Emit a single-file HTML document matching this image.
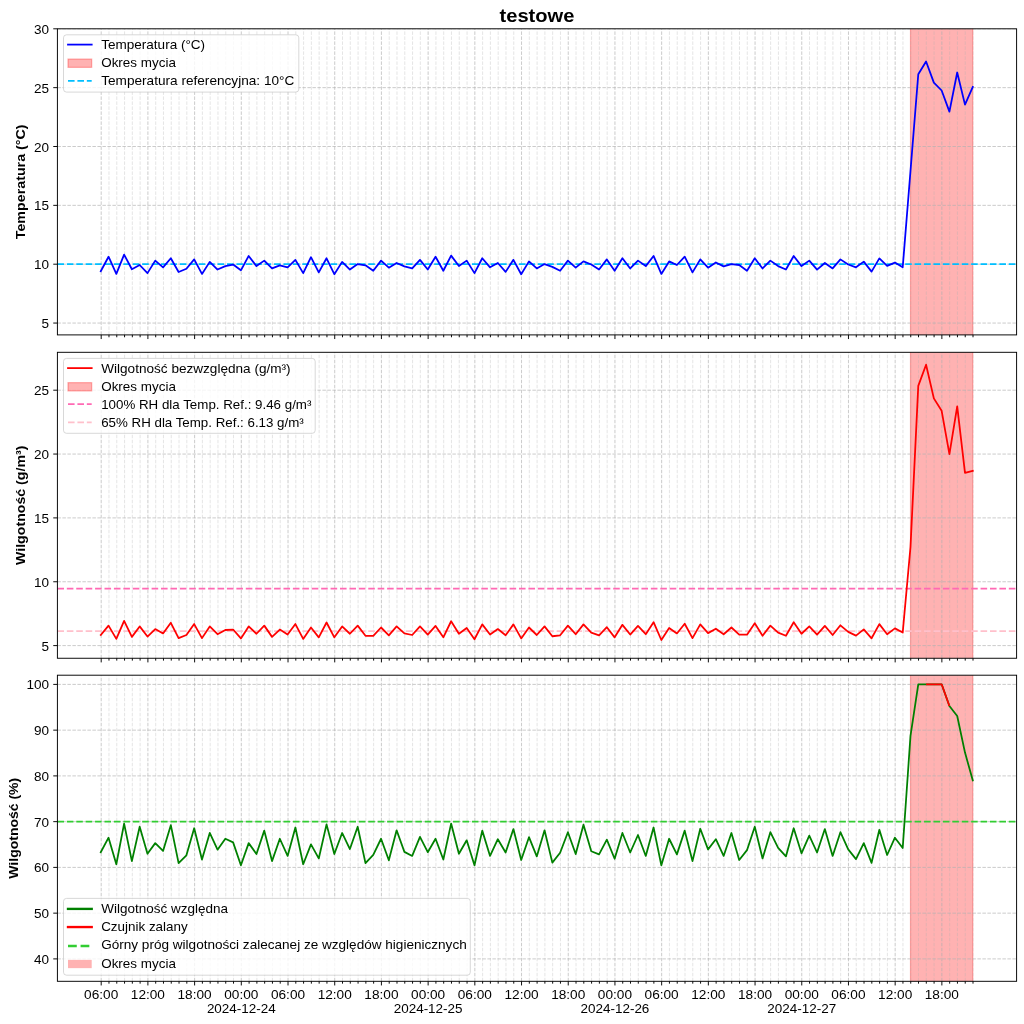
<!DOCTYPE html><html><head><meta charset="utf-8"><style>html,body{margin:0;padding:0;background:#fff;width:1024px;height:1024px;overflow:hidden}svg{display:block;will-change:transform}text{font-family:"Liberation Sans",sans-serif;fill:#000}</style></head><body>
<svg width="1024" height="1024" viewBox="0 0 1024 1024">
<rect width="1024" height="1024" fill="#fff"/>
<clipPath id="c0"><rect x="57.4" y="28.8" width="959.2" height="306.09999999999997"/></clipPath>
<g clip-path="url(#c0)">
<rect x="910.49" y="26.8" width="62.29" height="310.09999999999997" fill="#ff0000" fill-opacity="0.3" stroke="#ff0000" stroke-opacity="0.3" stroke-width="1.18"/>
<line x1="108.98" y1="334.9" x2="108.98" y2="28.8" stroke="#b0b0b0" stroke-opacity="0.35" stroke-width="0.95" stroke-dasharray="3.5 1.5"/>
<line x1="116.77" y1="334.9" x2="116.77" y2="28.8" stroke="#b0b0b0" stroke-opacity="0.35" stroke-width="0.95" stroke-dasharray="3.5 1.5"/>
<line x1="124.55" y1="334.9" x2="124.55" y2="28.8" stroke="#b0b0b0" stroke-opacity="0.35" stroke-width="0.95" stroke-dasharray="3.5 1.5"/>
<line x1="132.34" y1="334.9" x2="132.34" y2="28.8" stroke="#b0b0b0" stroke-opacity="0.35" stroke-width="0.95" stroke-dasharray="3.5 1.5"/>
<line x1="140.12" y1="334.9" x2="140.12" y2="28.8" stroke="#b0b0b0" stroke-opacity="0.35" stroke-width="0.95" stroke-dasharray="3.5 1.5"/>
<line x1="155.69" y1="334.9" x2="155.69" y2="28.8" stroke="#b0b0b0" stroke-opacity="0.35" stroke-width="0.95" stroke-dasharray="3.5 1.5"/>
<line x1="163.47" y1="334.9" x2="163.47" y2="28.8" stroke="#b0b0b0" stroke-opacity="0.35" stroke-width="0.95" stroke-dasharray="3.5 1.5"/>
<line x1="171.26" y1="334.9" x2="171.26" y2="28.8" stroke="#b0b0b0" stroke-opacity="0.35" stroke-width="0.95" stroke-dasharray="3.5 1.5"/>
<line x1="179.04" y1="334.9" x2="179.04" y2="28.8" stroke="#b0b0b0" stroke-opacity="0.35" stroke-width="0.95" stroke-dasharray="3.5 1.5"/>
<line x1="186.82" y1="334.9" x2="186.82" y2="28.8" stroke="#b0b0b0" stroke-opacity="0.35" stroke-width="0.95" stroke-dasharray="3.5 1.5"/>
<line x1="202.39" y1="334.9" x2="202.39" y2="28.8" stroke="#b0b0b0" stroke-opacity="0.35" stroke-width="0.95" stroke-dasharray="3.5 1.5"/>
<line x1="210.18" y1="334.9" x2="210.18" y2="28.8" stroke="#b0b0b0" stroke-opacity="0.35" stroke-width="0.95" stroke-dasharray="3.5 1.5"/>
<line x1="217.96" y1="334.9" x2="217.96" y2="28.8" stroke="#b0b0b0" stroke-opacity="0.35" stroke-width="0.95" stroke-dasharray="3.5 1.5"/>
<line x1="225.74" y1="334.9" x2="225.74" y2="28.8" stroke="#b0b0b0" stroke-opacity="0.35" stroke-width="0.95" stroke-dasharray="3.5 1.5"/>
<line x1="233.53" y1="334.9" x2="233.53" y2="28.8" stroke="#b0b0b0" stroke-opacity="0.35" stroke-width="0.95" stroke-dasharray="3.5 1.5"/>
<line x1="249.10" y1="334.9" x2="249.10" y2="28.8" stroke="#b0b0b0" stroke-opacity="0.35" stroke-width="0.95" stroke-dasharray="3.5 1.5"/>
<line x1="256.88" y1="334.9" x2="256.88" y2="28.8" stroke="#b0b0b0" stroke-opacity="0.35" stroke-width="0.95" stroke-dasharray="3.5 1.5"/>
<line x1="264.66" y1="334.9" x2="264.66" y2="28.8" stroke="#b0b0b0" stroke-opacity="0.35" stroke-width="0.95" stroke-dasharray="3.5 1.5"/>
<line x1="272.45" y1="334.9" x2="272.45" y2="28.8" stroke="#b0b0b0" stroke-opacity="0.35" stroke-width="0.95" stroke-dasharray="3.5 1.5"/>
<line x1="280.23" y1="334.9" x2="280.23" y2="28.8" stroke="#b0b0b0" stroke-opacity="0.35" stroke-width="0.95" stroke-dasharray="3.5 1.5"/>
<line x1="295.80" y1="334.9" x2="295.80" y2="28.8" stroke="#b0b0b0" stroke-opacity="0.35" stroke-width="0.95" stroke-dasharray="3.5 1.5"/>
<line x1="303.58" y1="334.9" x2="303.58" y2="28.8" stroke="#b0b0b0" stroke-opacity="0.35" stroke-width="0.95" stroke-dasharray="3.5 1.5"/>
<line x1="311.37" y1="334.9" x2="311.37" y2="28.8" stroke="#b0b0b0" stroke-opacity="0.35" stroke-width="0.95" stroke-dasharray="3.5 1.5"/>
<line x1="319.15" y1="334.9" x2="319.15" y2="28.8" stroke="#b0b0b0" stroke-opacity="0.35" stroke-width="0.95" stroke-dasharray="3.5 1.5"/>
<line x1="326.94" y1="334.9" x2="326.94" y2="28.8" stroke="#b0b0b0" stroke-opacity="0.35" stroke-width="0.95" stroke-dasharray="3.5 1.5"/>
<line x1="342.50" y1="334.9" x2="342.50" y2="28.8" stroke="#b0b0b0" stroke-opacity="0.35" stroke-width="0.95" stroke-dasharray="3.5 1.5"/>
<line x1="350.29" y1="334.9" x2="350.29" y2="28.8" stroke="#b0b0b0" stroke-opacity="0.35" stroke-width="0.95" stroke-dasharray="3.5 1.5"/>
<line x1="358.07" y1="334.9" x2="358.07" y2="28.8" stroke="#b0b0b0" stroke-opacity="0.35" stroke-width="0.95" stroke-dasharray="3.5 1.5"/>
<line x1="365.86" y1="334.9" x2="365.86" y2="28.8" stroke="#b0b0b0" stroke-opacity="0.35" stroke-width="0.95" stroke-dasharray="3.5 1.5"/>
<line x1="373.64" y1="334.9" x2="373.64" y2="28.8" stroke="#b0b0b0" stroke-opacity="0.35" stroke-width="0.95" stroke-dasharray="3.5 1.5"/>
<line x1="389.21" y1="334.9" x2="389.21" y2="28.8" stroke="#b0b0b0" stroke-opacity="0.35" stroke-width="0.95" stroke-dasharray="3.5 1.5"/>
<line x1="396.99" y1="334.9" x2="396.99" y2="28.8" stroke="#b0b0b0" stroke-opacity="0.35" stroke-width="0.95" stroke-dasharray="3.5 1.5"/>
<line x1="404.78" y1="334.9" x2="404.78" y2="28.8" stroke="#b0b0b0" stroke-opacity="0.35" stroke-width="0.95" stroke-dasharray="3.5 1.5"/>
<line x1="412.56" y1="334.9" x2="412.56" y2="28.8" stroke="#b0b0b0" stroke-opacity="0.35" stroke-width="0.95" stroke-dasharray="3.5 1.5"/>
<line x1="420.34" y1="334.9" x2="420.34" y2="28.8" stroke="#b0b0b0" stroke-opacity="0.35" stroke-width="0.95" stroke-dasharray="3.5 1.5"/>
<line x1="435.91" y1="334.9" x2="435.91" y2="28.8" stroke="#b0b0b0" stroke-opacity="0.35" stroke-width="0.95" stroke-dasharray="3.5 1.5"/>
<line x1="443.70" y1="334.9" x2="443.70" y2="28.8" stroke="#b0b0b0" stroke-opacity="0.35" stroke-width="0.95" stroke-dasharray="3.5 1.5"/>
<line x1="451.48" y1="334.9" x2="451.48" y2="28.8" stroke="#b0b0b0" stroke-opacity="0.35" stroke-width="0.95" stroke-dasharray="3.5 1.5"/>
<line x1="459.26" y1="334.9" x2="459.26" y2="28.8" stroke="#b0b0b0" stroke-opacity="0.35" stroke-width="0.95" stroke-dasharray="3.5 1.5"/>
<line x1="467.05" y1="334.9" x2="467.05" y2="28.8" stroke="#b0b0b0" stroke-opacity="0.35" stroke-width="0.95" stroke-dasharray="3.5 1.5"/>
<line x1="482.62" y1="334.9" x2="482.62" y2="28.8" stroke="#b0b0b0" stroke-opacity="0.35" stroke-width="0.95" stroke-dasharray="3.5 1.5"/>
<line x1="490.40" y1="334.9" x2="490.40" y2="28.8" stroke="#b0b0b0" stroke-opacity="0.35" stroke-width="0.95" stroke-dasharray="3.5 1.5"/>
<line x1="498.18" y1="334.9" x2="498.18" y2="28.8" stroke="#b0b0b0" stroke-opacity="0.35" stroke-width="0.95" stroke-dasharray="3.5 1.5"/>
<line x1="505.97" y1="334.9" x2="505.97" y2="28.8" stroke="#b0b0b0" stroke-opacity="0.35" stroke-width="0.95" stroke-dasharray="3.5 1.5"/>
<line x1="513.75" y1="334.9" x2="513.75" y2="28.8" stroke="#b0b0b0" stroke-opacity="0.35" stroke-width="0.95" stroke-dasharray="3.5 1.5"/>
<line x1="529.32" y1="334.9" x2="529.32" y2="28.8" stroke="#b0b0b0" stroke-opacity="0.35" stroke-width="0.95" stroke-dasharray="3.5 1.5"/>
<line x1="537.10" y1="334.9" x2="537.10" y2="28.8" stroke="#b0b0b0" stroke-opacity="0.35" stroke-width="0.95" stroke-dasharray="3.5 1.5"/>
<line x1="544.89" y1="334.9" x2="544.89" y2="28.8" stroke="#b0b0b0" stroke-opacity="0.35" stroke-width="0.95" stroke-dasharray="3.5 1.5"/>
<line x1="552.67" y1="334.9" x2="552.67" y2="28.8" stroke="#b0b0b0" stroke-opacity="0.35" stroke-width="0.95" stroke-dasharray="3.5 1.5"/>
<line x1="560.46" y1="334.9" x2="560.46" y2="28.8" stroke="#b0b0b0" stroke-opacity="0.35" stroke-width="0.95" stroke-dasharray="3.5 1.5"/>
<line x1="576.02" y1="334.9" x2="576.02" y2="28.8" stroke="#b0b0b0" stroke-opacity="0.35" stroke-width="0.95" stroke-dasharray="3.5 1.5"/>
<line x1="583.81" y1="334.9" x2="583.81" y2="28.8" stroke="#b0b0b0" stroke-opacity="0.35" stroke-width="0.95" stroke-dasharray="3.5 1.5"/>
<line x1="591.59" y1="334.9" x2="591.59" y2="28.8" stroke="#b0b0b0" stroke-opacity="0.35" stroke-width="0.95" stroke-dasharray="3.5 1.5"/>
<line x1="599.38" y1="334.9" x2="599.38" y2="28.8" stroke="#b0b0b0" stroke-opacity="0.35" stroke-width="0.95" stroke-dasharray="3.5 1.5"/>
<line x1="607.16" y1="334.9" x2="607.16" y2="28.8" stroke="#b0b0b0" stroke-opacity="0.35" stroke-width="0.95" stroke-dasharray="3.5 1.5"/>
<line x1="622.73" y1="334.9" x2="622.73" y2="28.8" stroke="#b0b0b0" stroke-opacity="0.35" stroke-width="0.95" stroke-dasharray="3.5 1.5"/>
<line x1="630.51" y1="334.9" x2="630.51" y2="28.8" stroke="#b0b0b0" stroke-opacity="0.35" stroke-width="0.95" stroke-dasharray="3.5 1.5"/>
<line x1="638.30" y1="334.9" x2="638.30" y2="28.8" stroke="#b0b0b0" stroke-opacity="0.35" stroke-width="0.95" stroke-dasharray="3.5 1.5"/>
<line x1="646.08" y1="334.9" x2="646.08" y2="28.8" stroke="#b0b0b0" stroke-opacity="0.35" stroke-width="0.95" stroke-dasharray="3.5 1.5"/>
<line x1="653.86" y1="334.9" x2="653.86" y2="28.8" stroke="#b0b0b0" stroke-opacity="0.35" stroke-width="0.95" stroke-dasharray="3.5 1.5"/>
<line x1="669.43" y1="334.9" x2="669.43" y2="28.8" stroke="#b0b0b0" stroke-opacity="0.35" stroke-width="0.95" stroke-dasharray="3.5 1.5"/>
<line x1="677.22" y1="334.9" x2="677.22" y2="28.8" stroke="#b0b0b0" stroke-opacity="0.35" stroke-width="0.95" stroke-dasharray="3.5 1.5"/>
<line x1="685.00" y1="334.9" x2="685.00" y2="28.8" stroke="#b0b0b0" stroke-opacity="0.35" stroke-width="0.95" stroke-dasharray="3.5 1.5"/>
<line x1="692.78" y1="334.9" x2="692.78" y2="28.8" stroke="#b0b0b0" stroke-opacity="0.35" stroke-width="0.95" stroke-dasharray="3.5 1.5"/>
<line x1="700.57" y1="334.9" x2="700.57" y2="28.8" stroke="#b0b0b0" stroke-opacity="0.35" stroke-width="0.95" stroke-dasharray="3.5 1.5"/>
<line x1="716.14" y1="334.9" x2="716.14" y2="28.8" stroke="#b0b0b0" stroke-opacity="0.35" stroke-width="0.95" stroke-dasharray="3.5 1.5"/>
<line x1="723.92" y1="334.9" x2="723.92" y2="28.8" stroke="#b0b0b0" stroke-opacity="0.35" stroke-width="0.95" stroke-dasharray="3.5 1.5"/>
<line x1="731.70" y1="334.9" x2="731.70" y2="28.8" stroke="#b0b0b0" stroke-opacity="0.35" stroke-width="0.95" stroke-dasharray="3.5 1.5"/>
<line x1="739.49" y1="334.9" x2="739.49" y2="28.8" stroke="#b0b0b0" stroke-opacity="0.35" stroke-width="0.95" stroke-dasharray="3.5 1.5"/>
<line x1="747.27" y1="334.9" x2="747.27" y2="28.8" stroke="#b0b0b0" stroke-opacity="0.35" stroke-width="0.95" stroke-dasharray="3.5 1.5"/>
<line x1="762.84" y1="334.9" x2="762.84" y2="28.8" stroke="#b0b0b0" stroke-opacity="0.35" stroke-width="0.95" stroke-dasharray="3.5 1.5"/>
<line x1="770.62" y1="334.9" x2="770.62" y2="28.8" stroke="#b0b0b0" stroke-opacity="0.35" stroke-width="0.95" stroke-dasharray="3.5 1.5"/>
<line x1="778.41" y1="334.9" x2="778.41" y2="28.8" stroke="#b0b0b0" stroke-opacity="0.35" stroke-width="0.95" stroke-dasharray="3.5 1.5"/>
<line x1="786.19" y1="334.9" x2="786.19" y2="28.8" stroke="#b0b0b0" stroke-opacity="0.35" stroke-width="0.95" stroke-dasharray="3.5 1.5"/>
<line x1="793.98" y1="334.9" x2="793.98" y2="28.8" stroke="#b0b0b0" stroke-opacity="0.35" stroke-width="0.95" stroke-dasharray="3.5 1.5"/>
<line x1="809.54" y1="334.9" x2="809.54" y2="28.8" stroke="#b0b0b0" stroke-opacity="0.35" stroke-width="0.95" stroke-dasharray="3.5 1.5"/>
<line x1="817.33" y1="334.9" x2="817.33" y2="28.8" stroke="#b0b0b0" stroke-opacity="0.35" stroke-width="0.95" stroke-dasharray="3.5 1.5"/>
<line x1="825.11" y1="334.9" x2="825.11" y2="28.8" stroke="#b0b0b0" stroke-opacity="0.35" stroke-width="0.95" stroke-dasharray="3.5 1.5"/>
<line x1="832.90" y1="334.9" x2="832.90" y2="28.8" stroke="#b0b0b0" stroke-opacity="0.35" stroke-width="0.95" stroke-dasharray="3.5 1.5"/>
<line x1="840.68" y1="334.9" x2="840.68" y2="28.8" stroke="#b0b0b0" stroke-opacity="0.35" stroke-width="0.95" stroke-dasharray="3.5 1.5"/>
<line x1="856.25" y1="334.9" x2="856.25" y2="28.8" stroke="#b0b0b0" stroke-opacity="0.35" stroke-width="0.95" stroke-dasharray="3.5 1.5"/>
<line x1="864.03" y1="334.9" x2="864.03" y2="28.8" stroke="#b0b0b0" stroke-opacity="0.35" stroke-width="0.95" stroke-dasharray="3.5 1.5"/>
<line x1="871.82" y1="334.9" x2="871.82" y2="28.8" stroke="#b0b0b0" stroke-opacity="0.35" stroke-width="0.95" stroke-dasharray="3.5 1.5"/>
<line x1="879.60" y1="334.9" x2="879.60" y2="28.8" stroke="#b0b0b0" stroke-opacity="0.35" stroke-width="0.95" stroke-dasharray="3.5 1.5"/>
<line x1="887.38" y1="334.9" x2="887.38" y2="28.8" stroke="#b0b0b0" stroke-opacity="0.35" stroke-width="0.95" stroke-dasharray="3.5 1.5"/>
<line x1="902.95" y1="334.9" x2="902.95" y2="28.8" stroke="#b0b0b0" stroke-opacity="0.35" stroke-width="0.95" stroke-dasharray="3.5 1.5"/>
<line x1="910.74" y1="334.9" x2="910.74" y2="28.8" stroke="#b0b0b0" stroke-opacity="0.35" stroke-width="0.95" stroke-dasharray="3.5 1.5"/>
<line x1="918.52" y1="334.9" x2="918.52" y2="28.8" stroke="#b0b0b0" stroke-opacity="0.35" stroke-width="0.95" stroke-dasharray="3.5 1.5"/>
<line x1="926.30" y1="334.9" x2="926.30" y2="28.8" stroke="#b0b0b0" stroke-opacity="0.35" stroke-width="0.95" stroke-dasharray="3.5 1.5"/>
<line x1="934.09" y1="334.9" x2="934.09" y2="28.8" stroke="#b0b0b0" stroke-opacity="0.35" stroke-width="0.95" stroke-dasharray="3.5 1.5"/>
<line x1="949.66" y1="334.9" x2="949.66" y2="28.8" stroke="#b0b0b0" stroke-opacity="0.35" stroke-width="0.95" stroke-dasharray="3.5 1.5"/>
<line x1="957.44" y1="334.9" x2="957.44" y2="28.8" stroke="#b0b0b0" stroke-opacity="0.35" stroke-width="0.95" stroke-dasharray="3.5 1.5"/>
<line x1="965.22" y1="334.9" x2="965.22" y2="28.8" stroke="#b0b0b0" stroke-opacity="0.35" stroke-width="0.95" stroke-dasharray="3.5 1.5"/>
<line x1="973.01" y1="334.9" x2="973.01" y2="28.8" stroke="#b0b0b0" stroke-opacity="0.35" stroke-width="0.95" stroke-dasharray="3.5 1.5"/>
<line x1="101.20" y1="334.9" x2="101.20" y2="28.8" stroke="#b0b0b0" stroke-opacity="0.7" stroke-width="0.95" stroke-dasharray="3.5 1.5"/>
<line x1="147.90" y1="334.9" x2="147.90" y2="28.8" stroke="#b0b0b0" stroke-opacity="0.7" stroke-width="0.95" stroke-dasharray="3.5 1.5"/>
<line x1="194.61" y1="334.9" x2="194.61" y2="28.8" stroke="#b0b0b0" stroke-opacity="0.7" stroke-width="0.95" stroke-dasharray="3.5 1.5"/>
<line x1="241.31" y1="334.9" x2="241.31" y2="28.8" stroke="#b0b0b0" stroke-opacity="0.7" stroke-width="0.95" stroke-dasharray="3.5 1.5"/>
<line x1="288.02" y1="334.9" x2="288.02" y2="28.8" stroke="#b0b0b0" stroke-opacity="0.7" stroke-width="0.95" stroke-dasharray="3.5 1.5"/>
<line x1="334.72" y1="334.9" x2="334.72" y2="28.8" stroke="#b0b0b0" stroke-opacity="0.7" stroke-width="0.95" stroke-dasharray="3.5 1.5"/>
<line x1="381.42" y1="334.9" x2="381.42" y2="28.8" stroke="#b0b0b0" stroke-opacity="0.7" stroke-width="0.95" stroke-dasharray="3.5 1.5"/>
<line x1="428.13" y1="334.9" x2="428.13" y2="28.8" stroke="#b0b0b0" stroke-opacity="0.7" stroke-width="0.95" stroke-dasharray="3.5 1.5"/>
<line x1="474.83" y1="334.9" x2="474.83" y2="28.8" stroke="#b0b0b0" stroke-opacity="0.7" stroke-width="0.95" stroke-dasharray="3.5 1.5"/>
<line x1="521.54" y1="334.9" x2="521.54" y2="28.8" stroke="#b0b0b0" stroke-opacity="0.7" stroke-width="0.95" stroke-dasharray="3.5 1.5"/>
<line x1="568.24" y1="334.9" x2="568.24" y2="28.8" stroke="#b0b0b0" stroke-opacity="0.7" stroke-width="0.95" stroke-dasharray="3.5 1.5"/>
<line x1="614.94" y1="334.9" x2="614.94" y2="28.8" stroke="#b0b0b0" stroke-opacity="0.7" stroke-width="0.95" stroke-dasharray="3.5 1.5"/>
<line x1="661.65" y1="334.9" x2="661.65" y2="28.8" stroke="#b0b0b0" stroke-opacity="0.7" stroke-width="0.95" stroke-dasharray="3.5 1.5"/>
<line x1="708.35" y1="334.9" x2="708.35" y2="28.8" stroke="#b0b0b0" stroke-opacity="0.7" stroke-width="0.95" stroke-dasharray="3.5 1.5"/>
<line x1="755.06" y1="334.9" x2="755.06" y2="28.8" stroke="#b0b0b0" stroke-opacity="0.7" stroke-width="0.95" stroke-dasharray="3.5 1.5"/>
<line x1="801.76" y1="334.9" x2="801.76" y2="28.8" stroke="#b0b0b0" stroke-opacity="0.7" stroke-width="0.95" stroke-dasharray="3.5 1.5"/>
<line x1="848.46" y1="334.9" x2="848.46" y2="28.8" stroke="#b0b0b0" stroke-opacity="0.7" stroke-width="0.95" stroke-dasharray="3.5 1.5"/>
<line x1="895.17" y1="334.9" x2="895.17" y2="28.8" stroke="#b0b0b0" stroke-opacity="0.7" stroke-width="0.95" stroke-dasharray="3.5 1.5"/>
<line x1="941.87" y1="334.9" x2="941.87" y2="28.8" stroke="#b0b0b0" stroke-opacity="0.7" stroke-width="0.95" stroke-dasharray="3.5 1.5"/>
<line x1="57.4" y1="323.05" x2="1016.6" y2="323.05" stroke="#b0b0b0" stroke-opacity="0.7" stroke-width="0.95" stroke-dasharray="3.5 1.5"/>
<line x1="57.4" y1="264.20" x2="1016.6" y2="264.20" stroke="#b0b0b0" stroke-opacity="0.7" stroke-width="0.95" stroke-dasharray="3.5 1.5"/>
<line x1="57.4" y1="205.35" x2="1016.6" y2="205.35" stroke="#b0b0b0" stroke-opacity="0.7" stroke-width="0.95" stroke-dasharray="3.5 1.5"/>
<line x1="57.4" y1="146.50" x2="1016.6" y2="146.50" stroke="#b0b0b0" stroke-opacity="0.7" stroke-width="0.95" stroke-dasharray="3.5 1.5"/>
<line x1="57.4" y1="87.65" x2="1016.6" y2="87.65" stroke="#b0b0b0" stroke-opacity="0.7" stroke-width="0.95" stroke-dasharray="3.5 1.5"/>
<line x1="57.4" y1="28.80" x2="1016.6" y2="28.80" stroke="#b0b0b0" stroke-opacity="0.7" stroke-width="0.95" stroke-dasharray="3.5 1.5"/>
</g>
<clipPath id="c1"><rect x="57.4" y="352.3" width="959.2" height="305.95"/></clipPath>
<g clip-path="url(#c1)">
<rect x="910.49" y="350.3" width="62.29" height="309.95" fill="#ff0000" fill-opacity="0.3" stroke="#ff0000" stroke-opacity="0.3" stroke-width="1.18"/>
<line x1="108.98" y1="658.25" x2="108.98" y2="352.3" stroke="#b0b0b0" stroke-opacity="0.35" stroke-width="0.95" stroke-dasharray="3.5 1.5"/>
<line x1="116.77" y1="658.25" x2="116.77" y2="352.3" stroke="#b0b0b0" stroke-opacity="0.35" stroke-width="0.95" stroke-dasharray="3.5 1.5"/>
<line x1="124.55" y1="658.25" x2="124.55" y2="352.3" stroke="#b0b0b0" stroke-opacity="0.35" stroke-width="0.95" stroke-dasharray="3.5 1.5"/>
<line x1="132.34" y1="658.25" x2="132.34" y2="352.3" stroke="#b0b0b0" stroke-opacity="0.35" stroke-width="0.95" stroke-dasharray="3.5 1.5"/>
<line x1="140.12" y1="658.25" x2="140.12" y2="352.3" stroke="#b0b0b0" stroke-opacity="0.35" stroke-width="0.95" stroke-dasharray="3.5 1.5"/>
<line x1="155.69" y1="658.25" x2="155.69" y2="352.3" stroke="#b0b0b0" stroke-opacity="0.35" stroke-width="0.95" stroke-dasharray="3.5 1.5"/>
<line x1="163.47" y1="658.25" x2="163.47" y2="352.3" stroke="#b0b0b0" stroke-opacity="0.35" stroke-width="0.95" stroke-dasharray="3.5 1.5"/>
<line x1="171.26" y1="658.25" x2="171.26" y2="352.3" stroke="#b0b0b0" stroke-opacity="0.35" stroke-width="0.95" stroke-dasharray="3.5 1.5"/>
<line x1="179.04" y1="658.25" x2="179.04" y2="352.3" stroke="#b0b0b0" stroke-opacity="0.35" stroke-width="0.95" stroke-dasharray="3.5 1.5"/>
<line x1="186.82" y1="658.25" x2="186.82" y2="352.3" stroke="#b0b0b0" stroke-opacity="0.35" stroke-width="0.95" stroke-dasharray="3.5 1.5"/>
<line x1="202.39" y1="658.25" x2="202.39" y2="352.3" stroke="#b0b0b0" stroke-opacity="0.35" stroke-width="0.95" stroke-dasharray="3.5 1.5"/>
<line x1="210.18" y1="658.25" x2="210.18" y2="352.3" stroke="#b0b0b0" stroke-opacity="0.35" stroke-width="0.95" stroke-dasharray="3.5 1.5"/>
<line x1="217.96" y1="658.25" x2="217.96" y2="352.3" stroke="#b0b0b0" stroke-opacity="0.35" stroke-width="0.95" stroke-dasharray="3.5 1.5"/>
<line x1="225.74" y1="658.25" x2="225.74" y2="352.3" stroke="#b0b0b0" stroke-opacity="0.35" stroke-width="0.95" stroke-dasharray="3.5 1.5"/>
<line x1="233.53" y1="658.25" x2="233.53" y2="352.3" stroke="#b0b0b0" stroke-opacity="0.35" stroke-width="0.95" stroke-dasharray="3.5 1.5"/>
<line x1="249.10" y1="658.25" x2="249.10" y2="352.3" stroke="#b0b0b0" stroke-opacity="0.35" stroke-width="0.95" stroke-dasharray="3.5 1.5"/>
<line x1="256.88" y1="658.25" x2="256.88" y2="352.3" stroke="#b0b0b0" stroke-opacity="0.35" stroke-width="0.95" stroke-dasharray="3.5 1.5"/>
<line x1="264.66" y1="658.25" x2="264.66" y2="352.3" stroke="#b0b0b0" stroke-opacity="0.35" stroke-width="0.95" stroke-dasharray="3.5 1.5"/>
<line x1="272.45" y1="658.25" x2="272.45" y2="352.3" stroke="#b0b0b0" stroke-opacity="0.35" stroke-width="0.95" stroke-dasharray="3.5 1.5"/>
<line x1="280.23" y1="658.25" x2="280.23" y2="352.3" stroke="#b0b0b0" stroke-opacity="0.35" stroke-width="0.95" stroke-dasharray="3.5 1.5"/>
<line x1="295.80" y1="658.25" x2="295.80" y2="352.3" stroke="#b0b0b0" stroke-opacity="0.35" stroke-width="0.95" stroke-dasharray="3.5 1.5"/>
<line x1="303.58" y1="658.25" x2="303.58" y2="352.3" stroke="#b0b0b0" stroke-opacity="0.35" stroke-width="0.95" stroke-dasharray="3.5 1.5"/>
<line x1="311.37" y1="658.25" x2="311.37" y2="352.3" stroke="#b0b0b0" stroke-opacity="0.35" stroke-width="0.95" stroke-dasharray="3.5 1.5"/>
<line x1="319.15" y1="658.25" x2="319.15" y2="352.3" stroke="#b0b0b0" stroke-opacity="0.35" stroke-width="0.95" stroke-dasharray="3.5 1.5"/>
<line x1="326.94" y1="658.25" x2="326.94" y2="352.3" stroke="#b0b0b0" stroke-opacity="0.35" stroke-width="0.95" stroke-dasharray="3.5 1.5"/>
<line x1="342.50" y1="658.25" x2="342.50" y2="352.3" stroke="#b0b0b0" stroke-opacity="0.35" stroke-width="0.95" stroke-dasharray="3.5 1.5"/>
<line x1="350.29" y1="658.25" x2="350.29" y2="352.3" stroke="#b0b0b0" stroke-opacity="0.35" stroke-width="0.95" stroke-dasharray="3.5 1.5"/>
<line x1="358.07" y1="658.25" x2="358.07" y2="352.3" stroke="#b0b0b0" stroke-opacity="0.35" stroke-width="0.95" stroke-dasharray="3.5 1.5"/>
<line x1="365.86" y1="658.25" x2="365.86" y2="352.3" stroke="#b0b0b0" stroke-opacity="0.35" stroke-width="0.95" stroke-dasharray="3.5 1.5"/>
<line x1="373.64" y1="658.25" x2="373.64" y2="352.3" stroke="#b0b0b0" stroke-opacity="0.35" stroke-width="0.95" stroke-dasharray="3.5 1.5"/>
<line x1="389.21" y1="658.25" x2="389.21" y2="352.3" stroke="#b0b0b0" stroke-opacity="0.35" stroke-width="0.95" stroke-dasharray="3.5 1.5"/>
<line x1="396.99" y1="658.25" x2="396.99" y2="352.3" stroke="#b0b0b0" stroke-opacity="0.35" stroke-width="0.95" stroke-dasharray="3.5 1.5"/>
<line x1="404.78" y1="658.25" x2="404.78" y2="352.3" stroke="#b0b0b0" stroke-opacity="0.35" stroke-width="0.95" stroke-dasharray="3.5 1.5"/>
<line x1="412.56" y1="658.25" x2="412.56" y2="352.3" stroke="#b0b0b0" stroke-opacity="0.35" stroke-width="0.95" stroke-dasharray="3.5 1.5"/>
<line x1="420.34" y1="658.25" x2="420.34" y2="352.3" stroke="#b0b0b0" stroke-opacity="0.35" stroke-width="0.95" stroke-dasharray="3.5 1.5"/>
<line x1="435.91" y1="658.25" x2="435.91" y2="352.3" stroke="#b0b0b0" stroke-opacity="0.35" stroke-width="0.95" stroke-dasharray="3.5 1.5"/>
<line x1="443.70" y1="658.25" x2="443.70" y2="352.3" stroke="#b0b0b0" stroke-opacity="0.35" stroke-width="0.95" stroke-dasharray="3.5 1.5"/>
<line x1="451.48" y1="658.25" x2="451.48" y2="352.3" stroke="#b0b0b0" stroke-opacity="0.35" stroke-width="0.95" stroke-dasharray="3.5 1.5"/>
<line x1="459.26" y1="658.25" x2="459.26" y2="352.3" stroke="#b0b0b0" stroke-opacity="0.35" stroke-width="0.95" stroke-dasharray="3.5 1.5"/>
<line x1="467.05" y1="658.25" x2="467.05" y2="352.3" stroke="#b0b0b0" stroke-opacity="0.35" stroke-width="0.95" stroke-dasharray="3.5 1.5"/>
<line x1="482.62" y1="658.25" x2="482.62" y2="352.3" stroke="#b0b0b0" stroke-opacity="0.35" stroke-width="0.95" stroke-dasharray="3.5 1.5"/>
<line x1="490.40" y1="658.25" x2="490.40" y2="352.3" stroke="#b0b0b0" stroke-opacity="0.35" stroke-width="0.95" stroke-dasharray="3.5 1.5"/>
<line x1="498.18" y1="658.25" x2="498.18" y2="352.3" stroke="#b0b0b0" stroke-opacity="0.35" stroke-width="0.95" stroke-dasharray="3.5 1.5"/>
<line x1="505.97" y1="658.25" x2="505.97" y2="352.3" stroke="#b0b0b0" stroke-opacity="0.35" stroke-width="0.95" stroke-dasharray="3.5 1.5"/>
<line x1="513.75" y1="658.25" x2="513.75" y2="352.3" stroke="#b0b0b0" stroke-opacity="0.35" stroke-width="0.95" stroke-dasharray="3.5 1.5"/>
<line x1="529.32" y1="658.25" x2="529.32" y2="352.3" stroke="#b0b0b0" stroke-opacity="0.35" stroke-width="0.95" stroke-dasharray="3.5 1.5"/>
<line x1="537.10" y1="658.25" x2="537.10" y2="352.3" stroke="#b0b0b0" stroke-opacity="0.35" stroke-width="0.95" stroke-dasharray="3.5 1.5"/>
<line x1="544.89" y1="658.25" x2="544.89" y2="352.3" stroke="#b0b0b0" stroke-opacity="0.35" stroke-width="0.95" stroke-dasharray="3.5 1.5"/>
<line x1="552.67" y1="658.25" x2="552.67" y2="352.3" stroke="#b0b0b0" stroke-opacity="0.35" stroke-width="0.95" stroke-dasharray="3.5 1.5"/>
<line x1="560.46" y1="658.25" x2="560.46" y2="352.3" stroke="#b0b0b0" stroke-opacity="0.35" stroke-width="0.95" stroke-dasharray="3.5 1.5"/>
<line x1="576.02" y1="658.25" x2="576.02" y2="352.3" stroke="#b0b0b0" stroke-opacity="0.35" stroke-width="0.95" stroke-dasharray="3.5 1.5"/>
<line x1="583.81" y1="658.25" x2="583.81" y2="352.3" stroke="#b0b0b0" stroke-opacity="0.35" stroke-width="0.95" stroke-dasharray="3.5 1.5"/>
<line x1="591.59" y1="658.25" x2="591.59" y2="352.3" stroke="#b0b0b0" stroke-opacity="0.35" stroke-width="0.95" stroke-dasharray="3.5 1.5"/>
<line x1="599.38" y1="658.25" x2="599.38" y2="352.3" stroke="#b0b0b0" stroke-opacity="0.35" stroke-width="0.95" stroke-dasharray="3.5 1.5"/>
<line x1="607.16" y1="658.25" x2="607.16" y2="352.3" stroke="#b0b0b0" stroke-opacity="0.35" stroke-width="0.95" stroke-dasharray="3.5 1.5"/>
<line x1="622.73" y1="658.25" x2="622.73" y2="352.3" stroke="#b0b0b0" stroke-opacity="0.35" stroke-width="0.95" stroke-dasharray="3.5 1.5"/>
<line x1="630.51" y1="658.25" x2="630.51" y2="352.3" stroke="#b0b0b0" stroke-opacity="0.35" stroke-width="0.95" stroke-dasharray="3.5 1.5"/>
<line x1="638.30" y1="658.25" x2="638.30" y2="352.3" stroke="#b0b0b0" stroke-opacity="0.35" stroke-width="0.95" stroke-dasharray="3.5 1.5"/>
<line x1="646.08" y1="658.25" x2="646.08" y2="352.3" stroke="#b0b0b0" stroke-opacity="0.35" stroke-width="0.95" stroke-dasharray="3.5 1.5"/>
<line x1="653.86" y1="658.25" x2="653.86" y2="352.3" stroke="#b0b0b0" stroke-opacity="0.35" stroke-width="0.95" stroke-dasharray="3.5 1.5"/>
<line x1="669.43" y1="658.25" x2="669.43" y2="352.3" stroke="#b0b0b0" stroke-opacity="0.35" stroke-width="0.95" stroke-dasharray="3.5 1.5"/>
<line x1="677.22" y1="658.25" x2="677.22" y2="352.3" stroke="#b0b0b0" stroke-opacity="0.35" stroke-width="0.95" stroke-dasharray="3.5 1.5"/>
<line x1="685.00" y1="658.25" x2="685.00" y2="352.3" stroke="#b0b0b0" stroke-opacity="0.35" stroke-width="0.95" stroke-dasharray="3.5 1.5"/>
<line x1="692.78" y1="658.25" x2="692.78" y2="352.3" stroke="#b0b0b0" stroke-opacity="0.35" stroke-width="0.95" stroke-dasharray="3.5 1.5"/>
<line x1="700.57" y1="658.25" x2="700.57" y2="352.3" stroke="#b0b0b0" stroke-opacity="0.35" stroke-width="0.95" stroke-dasharray="3.5 1.5"/>
<line x1="716.14" y1="658.25" x2="716.14" y2="352.3" stroke="#b0b0b0" stroke-opacity="0.35" stroke-width="0.95" stroke-dasharray="3.5 1.5"/>
<line x1="723.92" y1="658.25" x2="723.92" y2="352.3" stroke="#b0b0b0" stroke-opacity="0.35" stroke-width="0.95" stroke-dasharray="3.5 1.5"/>
<line x1="731.70" y1="658.25" x2="731.70" y2="352.3" stroke="#b0b0b0" stroke-opacity="0.35" stroke-width="0.95" stroke-dasharray="3.5 1.5"/>
<line x1="739.49" y1="658.25" x2="739.49" y2="352.3" stroke="#b0b0b0" stroke-opacity="0.35" stroke-width="0.95" stroke-dasharray="3.5 1.5"/>
<line x1="747.27" y1="658.25" x2="747.27" y2="352.3" stroke="#b0b0b0" stroke-opacity="0.35" stroke-width="0.95" stroke-dasharray="3.5 1.5"/>
<line x1="762.84" y1="658.25" x2="762.84" y2="352.3" stroke="#b0b0b0" stroke-opacity="0.35" stroke-width="0.95" stroke-dasharray="3.5 1.5"/>
<line x1="770.62" y1="658.25" x2="770.62" y2="352.3" stroke="#b0b0b0" stroke-opacity="0.35" stroke-width="0.95" stroke-dasharray="3.5 1.5"/>
<line x1="778.41" y1="658.25" x2="778.41" y2="352.3" stroke="#b0b0b0" stroke-opacity="0.35" stroke-width="0.95" stroke-dasharray="3.5 1.5"/>
<line x1="786.19" y1="658.25" x2="786.19" y2="352.3" stroke="#b0b0b0" stroke-opacity="0.35" stroke-width="0.95" stroke-dasharray="3.5 1.5"/>
<line x1="793.98" y1="658.25" x2="793.98" y2="352.3" stroke="#b0b0b0" stroke-opacity="0.35" stroke-width="0.95" stroke-dasharray="3.5 1.5"/>
<line x1="809.54" y1="658.25" x2="809.54" y2="352.3" stroke="#b0b0b0" stroke-opacity="0.35" stroke-width="0.95" stroke-dasharray="3.5 1.5"/>
<line x1="817.33" y1="658.25" x2="817.33" y2="352.3" stroke="#b0b0b0" stroke-opacity="0.35" stroke-width="0.95" stroke-dasharray="3.5 1.5"/>
<line x1="825.11" y1="658.25" x2="825.11" y2="352.3" stroke="#b0b0b0" stroke-opacity="0.35" stroke-width="0.95" stroke-dasharray="3.5 1.5"/>
<line x1="832.90" y1="658.25" x2="832.90" y2="352.3" stroke="#b0b0b0" stroke-opacity="0.35" stroke-width="0.95" stroke-dasharray="3.5 1.5"/>
<line x1="840.68" y1="658.25" x2="840.68" y2="352.3" stroke="#b0b0b0" stroke-opacity="0.35" stroke-width="0.95" stroke-dasharray="3.5 1.5"/>
<line x1="856.25" y1="658.25" x2="856.25" y2="352.3" stroke="#b0b0b0" stroke-opacity="0.35" stroke-width="0.95" stroke-dasharray="3.5 1.5"/>
<line x1="864.03" y1="658.25" x2="864.03" y2="352.3" stroke="#b0b0b0" stroke-opacity="0.35" stroke-width="0.95" stroke-dasharray="3.5 1.5"/>
<line x1="871.82" y1="658.25" x2="871.82" y2="352.3" stroke="#b0b0b0" stroke-opacity="0.35" stroke-width="0.95" stroke-dasharray="3.5 1.5"/>
<line x1="879.60" y1="658.25" x2="879.60" y2="352.3" stroke="#b0b0b0" stroke-opacity="0.35" stroke-width="0.95" stroke-dasharray="3.5 1.5"/>
<line x1="887.38" y1="658.25" x2="887.38" y2="352.3" stroke="#b0b0b0" stroke-opacity="0.35" stroke-width="0.95" stroke-dasharray="3.5 1.5"/>
<line x1="902.95" y1="658.25" x2="902.95" y2="352.3" stroke="#b0b0b0" stroke-opacity="0.35" stroke-width="0.95" stroke-dasharray="3.5 1.5"/>
<line x1="910.74" y1="658.25" x2="910.74" y2="352.3" stroke="#b0b0b0" stroke-opacity="0.35" stroke-width="0.95" stroke-dasharray="3.5 1.5"/>
<line x1="918.52" y1="658.25" x2="918.52" y2="352.3" stroke="#b0b0b0" stroke-opacity="0.35" stroke-width="0.95" stroke-dasharray="3.5 1.5"/>
<line x1="926.30" y1="658.25" x2="926.30" y2="352.3" stroke="#b0b0b0" stroke-opacity="0.35" stroke-width="0.95" stroke-dasharray="3.5 1.5"/>
<line x1="934.09" y1="658.25" x2="934.09" y2="352.3" stroke="#b0b0b0" stroke-opacity="0.35" stroke-width="0.95" stroke-dasharray="3.5 1.5"/>
<line x1="949.66" y1="658.25" x2="949.66" y2="352.3" stroke="#b0b0b0" stroke-opacity="0.35" stroke-width="0.95" stroke-dasharray="3.5 1.5"/>
<line x1="957.44" y1="658.25" x2="957.44" y2="352.3" stroke="#b0b0b0" stroke-opacity="0.35" stroke-width="0.95" stroke-dasharray="3.5 1.5"/>
<line x1="965.22" y1="658.25" x2="965.22" y2="352.3" stroke="#b0b0b0" stroke-opacity="0.35" stroke-width="0.95" stroke-dasharray="3.5 1.5"/>
<line x1="973.01" y1="658.25" x2="973.01" y2="352.3" stroke="#b0b0b0" stroke-opacity="0.35" stroke-width="0.95" stroke-dasharray="3.5 1.5"/>
<line x1="101.20" y1="658.25" x2="101.20" y2="352.3" stroke="#b0b0b0" stroke-opacity="0.7" stroke-width="0.95" stroke-dasharray="3.5 1.5"/>
<line x1="147.90" y1="658.25" x2="147.90" y2="352.3" stroke="#b0b0b0" stroke-opacity="0.7" stroke-width="0.95" stroke-dasharray="3.5 1.5"/>
<line x1="194.61" y1="658.25" x2="194.61" y2="352.3" stroke="#b0b0b0" stroke-opacity="0.7" stroke-width="0.95" stroke-dasharray="3.5 1.5"/>
<line x1="241.31" y1="658.25" x2="241.31" y2="352.3" stroke="#b0b0b0" stroke-opacity="0.7" stroke-width="0.95" stroke-dasharray="3.5 1.5"/>
<line x1="288.02" y1="658.25" x2="288.02" y2="352.3" stroke="#b0b0b0" stroke-opacity="0.7" stroke-width="0.95" stroke-dasharray="3.5 1.5"/>
<line x1="334.72" y1="658.25" x2="334.72" y2="352.3" stroke="#b0b0b0" stroke-opacity="0.7" stroke-width="0.95" stroke-dasharray="3.5 1.5"/>
<line x1="381.42" y1="658.25" x2="381.42" y2="352.3" stroke="#b0b0b0" stroke-opacity="0.7" stroke-width="0.95" stroke-dasharray="3.5 1.5"/>
<line x1="428.13" y1="658.25" x2="428.13" y2="352.3" stroke="#b0b0b0" stroke-opacity="0.7" stroke-width="0.95" stroke-dasharray="3.5 1.5"/>
<line x1="474.83" y1="658.25" x2="474.83" y2="352.3" stroke="#b0b0b0" stroke-opacity="0.7" stroke-width="0.95" stroke-dasharray="3.5 1.5"/>
<line x1="521.54" y1="658.25" x2="521.54" y2="352.3" stroke="#b0b0b0" stroke-opacity="0.7" stroke-width="0.95" stroke-dasharray="3.5 1.5"/>
<line x1="568.24" y1="658.25" x2="568.24" y2="352.3" stroke="#b0b0b0" stroke-opacity="0.7" stroke-width="0.95" stroke-dasharray="3.5 1.5"/>
<line x1="614.94" y1="658.25" x2="614.94" y2="352.3" stroke="#b0b0b0" stroke-opacity="0.7" stroke-width="0.95" stroke-dasharray="3.5 1.5"/>
<line x1="661.65" y1="658.25" x2="661.65" y2="352.3" stroke="#b0b0b0" stroke-opacity="0.7" stroke-width="0.95" stroke-dasharray="3.5 1.5"/>
<line x1="708.35" y1="658.25" x2="708.35" y2="352.3" stroke="#b0b0b0" stroke-opacity="0.7" stroke-width="0.95" stroke-dasharray="3.5 1.5"/>
<line x1="755.06" y1="658.25" x2="755.06" y2="352.3" stroke="#b0b0b0" stroke-opacity="0.7" stroke-width="0.95" stroke-dasharray="3.5 1.5"/>
<line x1="801.76" y1="658.25" x2="801.76" y2="352.3" stroke="#b0b0b0" stroke-opacity="0.7" stroke-width="0.95" stroke-dasharray="3.5 1.5"/>
<line x1="848.46" y1="658.25" x2="848.46" y2="352.3" stroke="#b0b0b0" stroke-opacity="0.7" stroke-width="0.95" stroke-dasharray="3.5 1.5"/>
<line x1="895.17" y1="658.25" x2="895.17" y2="352.3" stroke="#b0b0b0" stroke-opacity="0.7" stroke-width="0.95" stroke-dasharray="3.5 1.5"/>
<line x1="941.87" y1="658.25" x2="941.87" y2="352.3" stroke="#b0b0b0" stroke-opacity="0.7" stroke-width="0.95" stroke-dasharray="3.5 1.5"/>
<line x1="57.4" y1="645.60" x2="1016.6" y2="645.60" stroke="#b0b0b0" stroke-opacity="0.7" stroke-width="0.95" stroke-dasharray="3.5 1.5"/>
<line x1="57.4" y1="581.75" x2="1016.6" y2="581.75" stroke="#b0b0b0" stroke-opacity="0.7" stroke-width="0.95" stroke-dasharray="3.5 1.5"/>
<line x1="57.4" y1="517.90" x2="1016.6" y2="517.90" stroke="#b0b0b0" stroke-opacity="0.7" stroke-width="0.95" stroke-dasharray="3.5 1.5"/>
<line x1="57.4" y1="454.05" x2="1016.6" y2="454.05" stroke="#b0b0b0" stroke-opacity="0.7" stroke-width="0.95" stroke-dasharray="3.5 1.5"/>
<line x1="57.4" y1="390.20" x2="1016.6" y2="390.20" stroke="#b0b0b0" stroke-opacity="0.7" stroke-width="0.95" stroke-dasharray="3.5 1.5"/>
</g>
<clipPath id="c2"><rect x="57.4" y="675.2" width="959.2" height="306.0999999999999"/></clipPath>
<g clip-path="url(#c2)">
<rect x="910.49" y="673.2" width="62.29" height="310.0999999999999" fill="#ff0000" fill-opacity="0.3" stroke="#ff0000" stroke-opacity="0.3" stroke-width="1.18"/>
<line x1="108.98" y1="981.3" x2="108.98" y2="675.2" stroke="#b0b0b0" stroke-opacity="0.35" stroke-width="0.95" stroke-dasharray="3.5 1.5"/>
<line x1="116.77" y1="981.3" x2="116.77" y2="675.2" stroke="#b0b0b0" stroke-opacity="0.35" stroke-width="0.95" stroke-dasharray="3.5 1.5"/>
<line x1="124.55" y1="981.3" x2="124.55" y2="675.2" stroke="#b0b0b0" stroke-opacity="0.35" stroke-width="0.95" stroke-dasharray="3.5 1.5"/>
<line x1="132.34" y1="981.3" x2="132.34" y2="675.2" stroke="#b0b0b0" stroke-opacity="0.35" stroke-width="0.95" stroke-dasharray="3.5 1.5"/>
<line x1="140.12" y1="981.3" x2="140.12" y2="675.2" stroke="#b0b0b0" stroke-opacity="0.35" stroke-width="0.95" stroke-dasharray="3.5 1.5"/>
<line x1="155.69" y1="981.3" x2="155.69" y2="675.2" stroke="#b0b0b0" stroke-opacity="0.35" stroke-width="0.95" stroke-dasharray="3.5 1.5"/>
<line x1="163.47" y1="981.3" x2="163.47" y2="675.2" stroke="#b0b0b0" stroke-opacity="0.35" stroke-width="0.95" stroke-dasharray="3.5 1.5"/>
<line x1="171.26" y1="981.3" x2="171.26" y2="675.2" stroke="#b0b0b0" stroke-opacity="0.35" stroke-width="0.95" stroke-dasharray="3.5 1.5"/>
<line x1="179.04" y1="981.3" x2="179.04" y2="675.2" stroke="#b0b0b0" stroke-opacity="0.35" stroke-width="0.95" stroke-dasharray="3.5 1.5"/>
<line x1="186.82" y1="981.3" x2="186.82" y2="675.2" stroke="#b0b0b0" stroke-opacity="0.35" stroke-width="0.95" stroke-dasharray="3.5 1.5"/>
<line x1="202.39" y1="981.3" x2="202.39" y2="675.2" stroke="#b0b0b0" stroke-opacity="0.35" stroke-width="0.95" stroke-dasharray="3.5 1.5"/>
<line x1="210.18" y1="981.3" x2="210.18" y2="675.2" stroke="#b0b0b0" stroke-opacity="0.35" stroke-width="0.95" stroke-dasharray="3.5 1.5"/>
<line x1="217.96" y1="981.3" x2="217.96" y2="675.2" stroke="#b0b0b0" stroke-opacity="0.35" stroke-width="0.95" stroke-dasharray="3.5 1.5"/>
<line x1="225.74" y1="981.3" x2="225.74" y2="675.2" stroke="#b0b0b0" stroke-opacity="0.35" stroke-width="0.95" stroke-dasharray="3.5 1.5"/>
<line x1="233.53" y1="981.3" x2="233.53" y2="675.2" stroke="#b0b0b0" stroke-opacity="0.35" stroke-width="0.95" stroke-dasharray="3.5 1.5"/>
<line x1="249.10" y1="981.3" x2="249.10" y2="675.2" stroke="#b0b0b0" stroke-opacity="0.35" stroke-width="0.95" stroke-dasharray="3.5 1.5"/>
<line x1="256.88" y1="981.3" x2="256.88" y2="675.2" stroke="#b0b0b0" stroke-opacity="0.35" stroke-width="0.95" stroke-dasharray="3.5 1.5"/>
<line x1="264.66" y1="981.3" x2="264.66" y2="675.2" stroke="#b0b0b0" stroke-opacity="0.35" stroke-width="0.95" stroke-dasharray="3.5 1.5"/>
<line x1="272.45" y1="981.3" x2="272.45" y2="675.2" stroke="#b0b0b0" stroke-opacity="0.35" stroke-width="0.95" stroke-dasharray="3.5 1.5"/>
<line x1="280.23" y1="981.3" x2="280.23" y2="675.2" stroke="#b0b0b0" stroke-opacity="0.35" stroke-width="0.95" stroke-dasharray="3.5 1.5"/>
<line x1="295.80" y1="981.3" x2="295.80" y2="675.2" stroke="#b0b0b0" stroke-opacity="0.35" stroke-width="0.95" stroke-dasharray="3.5 1.5"/>
<line x1="303.58" y1="981.3" x2="303.58" y2="675.2" stroke="#b0b0b0" stroke-opacity="0.35" stroke-width="0.95" stroke-dasharray="3.5 1.5"/>
<line x1="311.37" y1="981.3" x2="311.37" y2="675.2" stroke="#b0b0b0" stroke-opacity="0.35" stroke-width="0.95" stroke-dasharray="3.5 1.5"/>
<line x1="319.15" y1="981.3" x2="319.15" y2="675.2" stroke="#b0b0b0" stroke-opacity="0.35" stroke-width="0.95" stroke-dasharray="3.5 1.5"/>
<line x1="326.94" y1="981.3" x2="326.94" y2="675.2" stroke="#b0b0b0" stroke-opacity="0.35" stroke-width="0.95" stroke-dasharray="3.5 1.5"/>
<line x1="342.50" y1="981.3" x2="342.50" y2="675.2" stroke="#b0b0b0" stroke-opacity="0.35" stroke-width="0.95" stroke-dasharray="3.5 1.5"/>
<line x1="350.29" y1="981.3" x2="350.29" y2="675.2" stroke="#b0b0b0" stroke-opacity="0.35" stroke-width="0.95" stroke-dasharray="3.5 1.5"/>
<line x1="358.07" y1="981.3" x2="358.07" y2="675.2" stroke="#b0b0b0" stroke-opacity="0.35" stroke-width="0.95" stroke-dasharray="3.5 1.5"/>
<line x1="365.86" y1="981.3" x2="365.86" y2="675.2" stroke="#b0b0b0" stroke-opacity="0.35" stroke-width="0.95" stroke-dasharray="3.5 1.5"/>
<line x1="373.64" y1="981.3" x2="373.64" y2="675.2" stroke="#b0b0b0" stroke-opacity="0.35" stroke-width="0.95" stroke-dasharray="3.5 1.5"/>
<line x1="389.21" y1="981.3" x2="389.21" y2="675.2" stroke="#b0b0b0" stroke-opacity="0.35" stroke-width="0.95" stroke-dasharray="3.5 1.5"/>
<line x1="396.99" y1="981.3" x2="396.99" y2="675.2" stroke="#b0b0b0" stroke-opacity="0.35" stroke-width="0.95" stroke-dasharray="3.5 1.5"/>
<line x1="404.78" y1="981.3" x2="404.78" y2="675.2" stroke="#b0b0b0" stroke-opacity="0.35" stroke-width="0.95" stroke-dasharray="3.5 1.5"/>
<line x1="412.56" y1="981.3" x2="412.56" y2="675.2" stroke="#b0b0b0" stroke-opacity="0.35" stroke-width="0.95" stroke-dasharray="3.5 1.5"/>
<line x1="420.34" y1="981.3" x2="420.34" y2="675.2" stroke="#b0b0b0" stroke-opacity="0.35" stroke-width="0.95" stroke-dasharray="3.5 1.5"/>
<line x1="435.91" y1="981.3" x2="435.91" y2="675.2" stroke="#b0b0b0" stroke-opacity="0.35" stroke-width="0.95" stroke-dasharray="3.5 1.5"/>
<line x1="443.70" y1="981.3" x2="443.70" y2="675.2" stroke="#b0b0b0" stroke-opacity="0.35" stroke-width="0.95" stroke-dasharray="3.5 1.5"/>
<line x1="451.48" y1="981.3" x2="451.48" y2="675.2" stroke="#b0b0b0" stroke-opacity="0.35" stroke-width="0.95" stroke-dasharray="3.5 1.5"/>
<line x1="459.26" y1="981.3" x2="459.26" y2="675.2" stroke="#b0b0b0" stroke-opacity="0.35" stroke-width="0.95" stroke-dasharray="3.5 1.5"/>
<line x1="467.05" y1="981.3" x2="467.05" y2="675.2" stroke="#b0b0b0" stroke-opacity="0.35" stroke-width="0.95" stroke-dasharray="3.5 1.5"/>
<line x1="482.62" y1="981.3" x2="482.62" y2="675.2" stroke="#b0b0b0" stroke-opacity="0.35" stroke-width="0.95" stroke-dasharray="3.5 1.5"/>
<line x1="490.40" y1="981.3" x2="490.40" y2="675.2" stroke="#b0b0b0" stroke-opacity="0.35" stroke-width="0.95" stroke-dasharray="3.5 1.5"/>
<line x1="498.18" y1="981.3" x2="498.18" y2="675.2" stroke="#b0b0b0" stroke-opacity="0.35" stroke-width="0.95" stroke-dasharray="3.5 1.5"/>
<line x1="505.97" y1="981.3" x2="505.97" y2="675.2" stroke="#b0b0b0" stroke-opacity="0.35" stroke-width="0.95" stroke-dasharray="3.5 1.5"/>
<line x1="513.75" y1="981.3" x2="513.75" y2="675.2" stroke="#b0b0b0" stroke-opacity="0.35" stroke-width="0.95" stroke-dasharray="3.5 1.5"/>
<line x1="529.32" y1="981.3" x2="529.32" y2="675.2" stroke="#b0b0b0" stroke-opacity="0.35" stroke-width="0.95" stroke-dasharray="3.5 1.5"/>
<line x1="537.10" y1="981.3" x2="537.10" y2="675.2" stroke="#b0b0b0" stroke-opacity="0.35" stroke-width="0.95" stroke-dasharray="3.5 1.5"/>
<line x1="544.89" y1="981.3" x2="544.89" y2="675.2" stroke="#b0b0b0" stroke-opacity="0.35" stroke-width="0.95" stroke-dasharray="3.5 1.5"/>
<line x1="552.67" y1="981.3" x2="552.67" y2="675.2" stroke="#b0b0b0" stroke-opacity="0.35" stroke-width="0.95" stroke-dasharray="3.5 1.5"/>
<line x1="560.46" y1="981.3" x2="560.46" y2="675.2" stroke="#b0b0b0" stroke-opacity="0.35" stroke-width="0.95" stroke-dasharray="3.5 1.5"/>
<line x1="576.02" y1="981.3" x2="576.02" y2="675.2" stroke="#b0b0b0" stroke-opacity="0.35" stroke-width="0.95" stroke-dasharray="3.5 1.5"/>
<line x1="583.81" y1="981.3" x2="583.81" y2="675.2" stroke="#b0b0b0" stroke-opacity="0.35" stroke-width="0.95" stroke-dasharray="3.5 1.5"/>
<line x1="591.59" y1="981.3" x2="591.59" y2="675.2" stroke="#b0b0b0" stroke-opacity="0.35" stroke-width="0.95" stroke-dasharray="3.5 1.5"/>
<line x1="599.38" y1="981.3" x2="599.38" y2="675.2" stroke="#b0b0b0" stroke-opacity="0.35" stroke-width="0.95" stroke-dasharray="3.5 1.5"/>
<line x1="607.16" y1="981.3" x2="607.16" y2="675.2" stroke="#b0b0b0" stroke-opacity="0.35" stroke-width="0.95" stroke-dasharray="3.5 1.5"/>
<line x1="622.73" y1="981.3" x2="622.73" y2="675.2" stroke="#b0b0b0" stroke-opacity="0.35" stroke-width="0.95" stroke-dasharray="3.5 1.5"/>
<line x1="630.51" y1="981.3" x2="630.51" y2="675.2" stroke="#b0b0b0" stroke-opacity="0.35" stroke-width="0.95" stroke-dasharray="3.5 1.5"/>
<line x1="638.30" y1="981.3" x2="638.30" y2="675.2" stroke="#b0b0b0" stroke-opacity="0.35" stroke-width="0.95" stroke-dasharray="3.5 1.5"/>
<line x1="646.08" y1="981.3" x2="646.08" y2="675.2" stroke="#b0b0b0" stroke-opacity="0.35" stroke-width="0.95" stroke-dasharray="3.5 1.5"/>
<line x1="653.86" y1="981.3" x2="653.86" y2="675.2" stroke="#b0b0b0" stroke-opacity="0.35" stroke-width="0.95" stroke-dasharray="3.5 1.5"/>
<line x1="669.43" y1="981.3" x2="669.43" y2="675.2" stroke="#b0b0b0" stroke-opacity="0.35" stroke-width="0.95" stroke-dasharray="3.5 1.5"/>
<line x1="677.22" y1="981.3" x2="677.22" y2="675.2" stroke="#b0b0b0" stroke-opacity="0.35" stroke-width="0.95" stroke-dasharray="3.5 1.5"/>
<line x1="685.00" y1="981.3" x2="685.00" y2="675.2" stroke="#b0b0b0" stroke-opacity="0.35" stroke-width="0.95" stroke-dasharray="3.5 1.5"/>
<line x1="692.78" y1="981.3" x2="692.78" y2="675.2" stroke="#b0b0b0" stroke-opacity="0.35" stroke-width="0.95" stroke-dasharray="3.5 1.5"/>
<line x1="700.57" y1="981.3" x2="700.57" y2="675.2" stroke="#b0b0b0" stroke-opacity="0.35" stroke-width="0.95" stroke-dasharray="3.5 1.5"/>
<line x1="716.14" y1="981.3" x2="716.14" y2="675.2" stroke="#b0b0b0" stroke-opacity="0.35" stroke-width="0.95" stroke-dasharray="3.5 1.5"/>
<line x1="723.92" y1="981.3" x2="723.92" y2="675.2" stroke="#b0b0b0" stroke-opacity="0.35" stroke-width="0.95" stroke-dasharray="3.5 1.5"/>
<line x1="731.70" y1="981.3" x2="731.70" y2="675.2" stroke="#b0b0b0" stroke-opacity="0.35" stroke-width="0.95" stroke-dasharray="3.5 1.5"/>
<line x1="739.49" y1="981.3" x2="739.49" y2="675.2" stroke="#b0b0b0" stroke-opacity="0.35" stroke-width="0.95" stroke-dasharray="3.5 1.5"/>
<line x1="747.27" y1="981.3" x2="747.27" y2="675.2" stroke="#b0b0b0" stroke-opacity="0.35" stroke-width="0.95" stroke-dasharray="3.5 1.5"/>
<line x1="762.84" y1="981.3" x2="762.84" y2="675.2" stroke="#b0b0b0" stroke-opacity="0.35" stroke-width="0.95" stroke-dasharray="3.5 1.5"/>
<line x1="770.62" y1="981.3" x2="770.62" y2="675.2" stroke="#b0b0b0" stroke-opacity="0.35" stroke-width="0.95" stroke-dasharray="3.5 1.5"/>
<line x1="778.41" y1="981.3" x2="778.41" y2="675.2" stroke="#b0b0b0" stroke-opacity="0.35" stroke-width="0.95" stroke-dasharray="3.5 1.5"/>
<line x1="786.19" y1="981.3" x2="786.19" y2="675.2" stroke="#b0b0b0" stroke-opacity="0.35" stroke-width="0.95" stroke-dasharray="3.5 1.5"/>
<line x1="793.98" y1="981.3" x2="793.98" y2="675.2" stroke="#b0b0b0" stroke-opacity="0.35" stroke-width="0.95" stroke-dasharray="3.5 1.5"/>
<line x1="809.54" y1="981.3" x2="809.54" y2="675.2" stroke="#b0b0b0" stroke-opacity="0.35" stroke-width="0.95" stroke-dasharray="3.5 1.5"/>
<line x1="817.33" y1="981.3" x2="817.33" y2="675.2" stroke="#b0b0b0" stroke-opacity="0.35" stroke-width="0.95" stroke-dasharray="3.5 1.5"/>
<line x1="825.11" y1="981.3" x2="825.11" y2="675.2" stroke="#b0b0b0" stroke-opacity="0.35" stroke-width="0.95" stroke-dasharray="3.5 1.5"/>
<line x1="832.90" y1="981.3" x2="832.90" y2="675.2" stroke="#b0b0b0" stroke-opacity="0.35" stroke-width="0.95" stroke-dasharray="3.5 1.5"/>
<line x1="840.68" y1="981.3" x2="840.68" y2="675.2" stroke="#b0b0b0" stroke-opacity="0.35" stroke-width="0.95" stroke-dasharray="3.5 1.5"/>
<line x1="856.25" y1="981.3" x2="856.25" y2="675.2" stroke="#b0b0b0" stroke-opacity="0.35" stroke-width="0.95" stroke-dasharray="3.5 1.5"/>
<line x1="864.03" y1="981.3" x2="864.03" y2="675.2" stroke="#b0b0b0" stroke-opacity="0.35" stroke-width="0.95" stroke-dasharray="3.5 1.5"/>
<line x1="871.82" y1="981.3" x2="871.82" y2="675.2" stroke="#b0b0b0" stroke-opacity="0.35" stroke-width="0.95" stroke-dasharray="3.5 1.5"/>
<line x1="879.60" y1="981.3" x2="879.60" y2="675.2" stroke="#b0b0b0" stroke-opacity="0.35" stroke-width="0.95" stroke-dasharray="3.5 1.5"/>
<line x1="887.38" y1="981.3" x2="887.38" y2="675.2" stroke="#b0b0b0" stroke-opacity="0.35" stroke-width="0.95" stroke-dasharray="3.5 1.5"/>
<line x1="902.95" y1="981.3" x2="902.95" y2="675.2" stroke="#b0b0b0" stroke-opacity="0.35" stroke-width="0.95" stroke-dasharray="3.5 1.5"/>
<line x1="910.74" y1="981.3" x2="910.74" y2="675.2" stroke="#b0b0b0" stroke-opacity="0.35" stroke-width="0.95" stroke-dasharray="3.5 1.5"/>
<line x1="918.52" y1="981.3" x2="918.52" y2="675.2" stroke="#b0b0b0" stroke-opacity="0.35" stroke-width="0.95" stroke-dasharray="3.5 1.5"/>
<line x1="926.30" y1="981.3" x2="926.30" y2="675.2" stroke="#b0b0b0" stroke-opacity="0.35" stroke-width="0.95" stroke-dasharray="3.5 1.5"/>
<line x1="934.09" y1="981.3" x2="934.09" y2="675.2" stroke="#b0b0b0" stroke-opacity="0.35" stroke-width="0.95" stroke-dasharray="3.5 1.5"/>
<line x1="949.66" y1="981.3" x2="949.66" y2="675.2" stroke="#b0b0b0" stroke-opacity="0.35" stroke-width="0.95" stroke-dasharray="3.5 1.5"/>
<line x1="957.44" y1="981.3" x2="957.44" y2="675.2" stroke="#b0b0b0" stroke-opacity="0.35" stroke-width="0.95" stroke-dasharray="3.5 1.5"/>
<line x1="965.22" y1="981.3" x2="965.22" y2="675.2" stroke="#b0b0b0" stroke-opacity="0.35" stroke-width="0.95" stroke-dasharray="3.5 1.5"/>
<line x1="973.01" y1="981.3" x2="973.01" y2="675.2" stroke="#b0b0b0" stroke-opacity="0.35" stroke-width="0.95" stroke-dasharray="3.5 1.5"/>
<line x1="101.20" y1="981.3" x2="101.20" y2="675.2" stroke="#b0b0b0" stroke-opacity="0.7" stroke-width="0.95" stroke-dasharray="3.5 1.5"/>
<line x1="147.90" y1="981.3" x2="147.90" y2="675.2" stroke="#b0b0b0" stroke-opacity="0.7" stroke-width="0.95" stroke-dasharray="3.5 1.5"/>
<line x1="194.61" y1="981.3" x2="194.61" y2="675.2" stroke="#b0b0b0" stroke-opacity="0.7" stroke-width="0.95" stroke-dasharray="3.5 1.5"/>
<line x1="241.31" y1="981.3" x2="241.31" y2="675.2" stroke="#b0b0b0" stroke-opacity="0.7" stroke-width="0.95" stroke-dasharray="3.5 1.5"/>
<line x1="288.02" y1="981.3" x2="288.02" y2="675.2" stroke="#b0b0b0" stroke-opacity="0.7" stroke-width="0.95" stroke-dasharray="3.5 1.5"/>
<line x1="334.72" y1="981.3" x2="334.72" y2="675.2" stroke="#b0b0b0" stroke-opacity="0.7" stroke-width="0.95" stroke-dasharray="3.5 1.5"/>
<line x1="381.42" y1="981.3" x2="381.42" y2="675.2" stroke="#b0b0b0" stroke-opacity="0.7" stroke-width="0.95" stroke-dasharray="3.5 1.5"/>
<line x1="428.13" y1="981.3" x2="428.13" y2="675.2" stroke="#b0b0b0" stroke-opacity="0.7" stroke-width="0.95" stroke-dasharray="3.5 1.5"/>
<line x1="474.83" y1="981.3" x2="474.83" y2="675.2" stroke="#b0b0b0" stroke-opacity="0.7" stroke-width="0.95" stroke-dasharray="3.5 1.5"/>
<line x1="521.54" y1="981.3" x2="521.54" y2="675.2" stroke="#b0b0b0" stroke-opacity="0.7" stroke-width="0.95" stroke-dasharray="3.5 1.5"/>
<line x1="568.24" y1="981.3" x2="568.24" y2="675.2" stroke="#b0b0b0" stroke-opacity="0.7" stroke-width="0.95" stroke-dasharray="3.5 1.5"/>
<line x1="614.94" y1="981.3" x2="614.94" y2="675.2" stroke="#b0b0b0" stroke-opacity="0.7" stroke-width="0.95" stroke-dasharray="3.5 1.5"/>
<line x1="661.65" y1="981.3" x2="661.65" y2="675.2" stroke="#b0b0b0" stroke-opacity="0.7" stroke-width="0.95" stroke-dasharray="3.5 1.5"/>
<line x1="708.35" y1="981.3" x2="708.35" y2="675.2" stroke="#b0b0b0" stroke-opacity="0.7" stroke-width="0.95" stroke-dasharray="3.5 1.5"/>
<line x1="755.06" y1="981.3" x2="755.06" y2="675.2" stroke="#b0b0b0" stroke-opacity="0.7" stroke-width="0.95" stroke-dasharray="3.5 1.5"/>
<line x1="801.76" y1="981.3" x2="801.76" y2="675.2" stroke="#b0b0b0" stroke-opacity="0.7" stroke-width="0.95" stroke-dasharray="3.5 1.5"/>
<line x1="848.46" y1="981.3" x2="848.46" y2="675.2" stroke="#b0b0b0" stroke-opacity="0.7" stroke-width="0.95" stroke-dasharray="3.5 1.5"/>
<line x1="895.17" y1="981.3" x2="895.17" y2="675.2" stroke="#b0b0b0" stroke-opacity="0.7" stroke-width="0.95" stroke-dasharray="3.5 1.5"/>
<line x1="941.87" y1="981.3" x2="941.87" y2="675.2" stroke="#b0b0b0" stroke-opacity="0.7" stroke-width="0.95" stroke-dasharray="3.5 1.5"/>
<line x1="57.4" y1="958.90" x2="1016.6" y2="958.90" stroke="#b0b0b0" stroke-opacity="0.7" stroke-width="0.95" stroke-dasharray="3.5 1.5"/>
<line x1="57.4" y1="913.15" x2="1016.6" y2="913.15" stroke="#b0b0b0" stroke-opacity="0.7" stroke-width="0.95" stroke-dasharray="3.5 1.5"/>
<line x1="57.4" y1="867.40" x2="1016.6" y2="867.40" stroke="#b0b0b0" stroke-opacity="0.7" stroke-width="0.95" stroke-dasharray="3.5 1.5"/>
<line x1="57.4" y1="821.65" x2="1016.6" y2="821.65" stroke="#b0b0b0" stroke-opacity="0.7" stroke-width="0.95" stroke-dasharray="3.5 1.5"/>
<line x1="57.4" y1="775.90" x2="1016.6" y2="775.90" stroke="#b0b0b0" stroke-opacity="0.7" stroke-width="0.95" stroke-dasharray="3.5 1.5"/>
<line x1="57.4" y1="730.15" x2="1016.6" y2="730.15" stroke="#b0b0b0" stroke-opacity="0.7" stroke-width="0.95" stroke-dasharray="3.5 1.5"/>
<line x1="57.4" y1="684.40" x2="1016.6" y2="684.40" stroke="#b0b0b0" stroke-opacity="0.7" stroke-width="0.95" stroke-dasharray="3.5 1.5"/>
</g>
<g clip-path="url(#c0)">
<polyline points="57.40,264.20 1016.60,264.20" fill="none" stroke="#00bfff" stroke-width="1.78" stroke-linejoin="round" stroke-linecap="butt" stroke-dasharray="6.58 2.84"/>
<polyline points="100.75,271.25 108.54,256.72 116.32,273.91 124.11,254.69 131.89,269.22 139.68,265.00 147.47,273.12 155.25,260.62 163.04,267.34 170.82,258.28 178.61,272.03 186.40,268.75 194.18,259.38 201.97,273.91 209.75,261.88 217.54,269.53 225.33,266.09 233.11,264.53 240.90,270.31 248.68,255.94 256.47,266.09 264.26,260.62 272.04,268.44 279.83,265.31 287.61,267.34 295.40,259.84 303.19,273.12 310.97,257.19 318.76,272.34 326.54,258.28 334.33,274.22 342.12,261.88 349.90,269.53 357.69,264.06 365.47,265.31 373.26,270.78 381.05,260.62 388.83,267.66 396.62,262.97 404.40,266.41 412.19,268.44 419.98,259.84 427.76,269.53 435.55,256.72 443.33,270.78 451.12,255.62 458.91,266.09 466.69,260.62 474.48,273.12 482.26,258.28 490.05,267.34 497.84,262.97 505.62,271.88 513.41,259.84 521.19,274.22 528.98,261.41 536.77,268.44 544.55,264.06 552.34,266.88 560.12,270.78 567.91,260.62 575.70,267.66 583.48,261.41 591.27,264.53 599.05,269.53 606.84,259.38 614.63,270.78 622.41,258.28 630.20,268.44 637.98,260.62 645.77,266.09 653.56,255.94 661.34,273.91 669.13,261.41 676.91,265.00 684.70,256.72 692.49,272.34 700.27,259.38 708.06,267.66 715.84,262.50 723.63,266.41 731.42,264.06 739.20,265.00 746.99,270.78 754.77,258.28 762.56,268.44 770.35,260.62 778.13,266.09 785.92,269.53 793.70,255.94 801.49,266.09 809.28,260.62 817.06,269.69 824.85,262.97 832.63,268.44 840.42,259.38 848.21,264.50 855.99,267.30 863.78,261.60 871.56,271.60 879.35,258.40 887.14,265.90 894.92,262.60 902.71,267.30 910.49,171.00 918.28,74.30 926.07,61.50 933.85,82.60 941.64,90.50 949.42,111.60 957.21,72.50 965.00,104.60 972.78,87.00" fill="none" stroke="#0000ff" stroke-width="1.78" stroke-linejoin="round" stroke-linecap="square"/>
</g>
<g clip-path="url(#c1)">
<polyline points="57.40,588.65 1016.60,588.65" fill="none" stroke="#ff69b4" stroke-width="1.78" stroke-linejoin="round" stroke-linecap="butt" stroke-dasharray="6.58 2.84"/>
<polyline points="57.40,631.17 1016.60,631.17" fill="none" stroke="#ffc0cb" stroke-width="1.78" stroke-linejoin="round" stroke-linecap="butt" stroke-dasharray="6.58 2.84"/>
<polyline points="100.75,635.00 108.54,625.62 116.32,638.91 124.11,620.94 131.89,636.88 139.68,626.41 147.47,636.56 155.25,629.06 163.04,633.44 170.82,622.81 178.61,638.12 186.40,635.00 194.18,624.06 201.97,638.12 209.75,626.41 217.54,634.22 225.33,630.00 233.11,629.53 240.90,638.44 248.68,626.41 256.47,633.75 264.26,625.62 272.04,636.88 279.83,629.53 287.61,634.53 295.40,624.06 303.19,638.91 310.97,627.50 318.76,637.34 326.54,622.50 334.33,637.34 342.12,626.41 349.90,633.75 357.69,625.62 365.47,635.78 373.26,635.78 381.05,627.50 388.83,635.31 396.62,626.41 404.40,633.44 412.19,635.00 419.98,626.41 427.76,634.53 435.55,625.94 443.33,637.34 451.12,621.25 458.91,633.75 466.69,627.97 474.48,639.22 482.26,624.38 490.05,634.53 497.84,629.06 505.62,635.31 513.41,624.38 521.19,638.44 528.98,627.50 536.77,635.00 544.55,626.41 552.34,636.25 560.12,635.31 567.91,625.62 575.70,634.22 583.48,624.38 591.27,632.66 599.05,635.31 606.84,627.19 614.63,637.34 622.41,624.84 630.20,634.53 637.98,625.94 645.77,634.22 653.56,622.19 661.34,640.00 669.13,627.97 676.91,633.44 684.70,623.75 692.49,638.12 700.27,624.38 708.06,633.12 715.84,628.75 723.63,634.22 731.42,627.50 739.20,634.69 746.99,634.69 754.77,623.28 762.56,635.78 770.35,625.62 778.13,632.66 785.92,635.78 793.70,622.19 801.49,633.75 809.28,626.41 817.06,634.69 824.85,625.94 832.63,635.00 840.42,625.31 848.21,631.90 855.99,635.60 863.78,629.40 871.56,638.30 879.35,624.10 887.14,634.20 894.92,628.40 902.71,632.50 910.49,547.00 918.28,385.90 926.07,364.70 933.85,398.40 941.64,410.80 949.42,454.10 957.21,406.40 965.00,472.80 972.78,470.90" fill="none" stroke="#ff0000" stroke-width="1.78" stroke-linejoin="round" stroke-linecap="square"/>
</g>
<g clip-path="url(#c2)">
<polyline points="57.40,821.65 1016.60,821.65" fill="none" stroke="#32cd32" stroke-width="1.78" stroke-linejoin="round" stroke-linecap="butt" stroke-dasharray="6.58 2.84"/>
<polyline points="100.75,852.19 108.54,837.66 116.32,864.22 124.11,823.59 131.89,861.09 139.68,826.72 147.47,853.75 155.25,843.12 163.04,850.94 170.82,825.16 178.61,863.12 186.40,855.31 194.18,828.28 201.97,859.53 209.75,832.97 217.54,849.69 225.33,838.75 233.11,842.34 240.90,865.31 248.68,843.12 256.47,854.06 264.26,830.62 272.04,861.09 279.83,838.75 287.61,855.94 295.40,827.50 303.19,864.22 310.97,844.38 318.76,858.44 326.54,824.38 334.33,854.06 342.12,832.97 349.90,849.06 357.69,826.72 365.47,863.12 373.26,854.84 381.05,838.75 388.83,860.31 396.62,830.31 404.40,851.88 412.19,855.94 419.98,836.88 427.76,852.19 435.55,838.75 443.33,859.53 451.12,823.59 458.91,853.75 466.69,840.31 474.48,865.31 482.26,830.62 490.05,855.94 497.84,839.22 505.62,852.50 513.41,829.06 521.19,860.00 528.98,837.19 536.77,856.41 544.55,830.31 552.34,862.66 560.12,852.81 567.91,832.19 575.70,854.06 583.48,824.69 591.27,851.25 599.05,854.38 606.84,839.69 614.63,858.75 622.41,832.97 630.20,852.50 637.98,835.00 645.77,855.94 653.56,827.50 661.34,865.31 669.13,838.75 676.91,854.38 684.70,830.62 692.49,861.09 700.27,828.75 708.06,849.38 715.84,839.22 723.63,855.94 731.42,832.97 739.20,860.00 746.99,850.16 754.77,826.72 762.56,858.44 770.35,832.19 778.13,847.81 785.92,856.41 793.70,828.28 801.49,853.28 809.28,835.62 817.06,852.50 824.85,829.06 832.63,855.94 840.42,832.19 848.21,849.40 855.99,859.10 863.78,843.10 871.56,862.80 879.35,829.80 887.14,855.00 894.92,837.70 902.71,848.00 910.49,735.90 918.28,684.30 926.07,684.30 933.85,684.30 941.64,684.30 949.42,706.00 957.21,716.00 965.00,752.60 972.78,780.40" fill="none" stroke="#008000" stroke-width="1.78" stroke-linejoin="round" stroke-linecap="square"/>
<polyline points="926.07,684.30 933.85,684.30 941.64,684.30 949.42,706.00" fill="none" stroke="#ff0000" stroke-width="1.78" stroke-linejoin="round" stroke-linecap="butt"/>
</g>
<rect x="57.4" y="28.8" width="959.2" height="306.09999999999997" fill="none" stroke="#000" stroke-width="0.95"/>
<path d="M101.20 334.90v4.15 M108.98 334.90v2.37 M116.77 334.90v2.37 M124.55 334.90v2.37 M132.34 334.90v2.37 M140.12 334.90v2.37 M147.90 334.90v4.15 M155.69 334.90v2.37 M163.47 334.90v2.37 M171.26 334.90v2.37 M179.04 334.90v2.37 M186.82 334.90v2.37 M194.61 334.90v4.15 M202.39 334.90v2.37 M210.18 334.90v2.37 M217.96 334.90v2.37 M225.74 334.90v2.37 M233.53 334.90v2.37 M241.31 334.90v4.15 M249.10 334.90v2.37 M256.88 334.90v2.37 M264.66 334.90v2.37 M272.45 334.90v2.37 M280.23 334.90v2.37 M288.02 334.90v4.15 M295.80 334.90v2.37 M303.58 334.90v2.37 M311.37 334.90v2.37 M319.15 334.90v2.37 M326.94 334.90v2.37 M334.72 334.90v4.15 M342.50 334.90v2.37 M350.29 334.90v2.37 M358.07 334.90v2.37 M365.86 334.90v2.37 M373.64 334.90v2.37 M381.42 334.90v4.15 M389.21 334.90v2.37 M396.99 334.90v2.37 M404.78 334.90v2.37 M412.56 334.90v2.37 M420.34 334.90v2.37 M428.13 334.90v4.15 M435.91 334.90v2.37 M443.70 334.90v2.37 M451.48 334.90v2.37 M459.26 334.90v2.37 M467.05 334.90v2.37 M474.83 334.90v4.15 M482.62 334.90v2.37 M490.40 334.90v2.37 M498.18 334.90v2.37 M505.97 334.90v2.37 M513.75 334.90v2.37 M521.54 334.90v4.15 M529.32 334.90v2.37 M537.10 334.90v2.37 M544.89 334.90v2.37 M552.67 334.90v2.37 M560.46 334.90v2.37 M568.24 334.90v4.15 M576.02 334.90v2.37 M583.81 334.90v2.37 M591.59 334.90v2.37 M599.38 334.90v2.37 M607.16 334.90v2.37 M614.94 334.90v4.15 M622.73 334.90v2.37 M630.51 334.90v2.37 M638.30 334.90v2.37 M646.08 334.90v2.37 M653.86 334.90v2.37 M661.65 334.90v4.15 M669.43 334.90v2.37 M677.22 334.90v2.37 M685.00 334.90v2.37 M692.78 334.90v2.37 M700.57 334.90v2.37 M708.35 334.90v4.15 M716.14 334.90v2.37 M723.92 334.90v2.37 M731.70 334.90v2.37 M739.49 334.90v2.37 M747.27 334.90v2.37 M755.06 334.90v4.15 M762.84 334.90v2.37 M770.62 334.90v2.37 M778.41 334.90v2.37 M786.19 334.90v2.37 M793.98 334.90v2.37 M801.76 334.90v4.15 M809.54 334.90v2.37 M817.33 334.90v2.37 M825.11 334.90v2.37 M832.90 334.90v2.37 M840.68 334.90v2.37 M848.46 334.90v4.15 M856.25 334.90v2.37 M864.03 334.90v2.37 M871.82 334.90v2.37 M879.60 334.90v2.37 M887.38 334.90v2.37 M895.17 334.90v4.15 M902.95 334.90v2.37 M910.74 334.90v2.37 M918.52 334.90v2.37 M926.30 334.90v2.37 M934.09 334.90v2.37 M941.87 334.90v4.15 M949.66 334.90v2.37 M957.44 334.90v2.37 M965.22 334.90v2.37 M973.01 334.90v2.37 M57.4 323.05h-4.15 M57.4 264.20h-4.15 M57.4 205.35h-4.15 M57.4 146.50h-4.15 M57.4 87.65h-4.15 M57.4 28.80h-4.15" stroke="#000" stroke-width="0.95" fill="none"/>
<text x="49.10" y="328.05" font-size="12.4" text-anchor="end" textLength="7.54" lengthAdjust="spacingAndGlyphs">5</text>
<text x="49.10" y="269.20" font-size="12.4" text-anchor="end" textLength="15.08" lengthAdjust="spacingAndGlyphs">10</text>
<text x="49.10" y="210.35" font-size="12.4" text-anchor="end" textLength="15.08" lengthAdjust="spacingAndGlyphs">15</text>
<text x="49.10" y="151.50" font-size="12.4" text-anchor="end" textLength="15.08" lengthAdjust="spacingAndGlyphs">20</text>
<text x="49.10" y="92.65" font-size="12.4" text-anchor="end" textLength="15.08" lengthAdjust="spacingAndGlyphs">25</text>
<text x="49.10" y="33.80" font-size="12.4" text-anchor="end" textLength="15.08" lengthAdjust="spacingAndGlyphs">30</text>
<rect x="57.4" y="352.3" width="959.2" height="305.95" fill="none" stroke="#000" stroke-width="0.95"/>
<path d="M101.20 658.25v4.15 M108.98 658.25v2.37 M116.77 658.25v2.37 M124.55 658.25v2.37 M132.34 658.25v2.37 M140.12 658.25v2.37 M147.90 658.25v4.15 M155.69 658.25v2.37 M163.47 658.25v2.37 M171.26 658.25v2.37 M179.04 658.25v2.37 M186.82 658.25v2.37 M194.61 658.25v4.15 M202.39 658.25v2.37 M210.18 658.25v2.37 M217.96 658.25v2.37 M225.74 658.25v2.37 M233.53 658.25v2.37 M241.31 658.25v4.15 M249.10 658.25v2.37 M256.88 658.25v2.37 M264.66 658.25v2.37 M272.45 658.25v2.37 M280.23 658.25v2.37 M288.02 658.25v4.15 M295.80 658.25v2.37 M303.58 658.25v2.37 M311.37 658.25v2.37 M319.15 658.25v2.37 M326.94 658.25v2.37 M334.72 658.25v4.15 M342.50 658.25v2.37 M350.29 658.25v2.37 M358.07 658.25v2.37 M365.86 658.25v2.37 M373.64 658.25v2.37 M381.42 658.25v4.15 M389.21 658.25v2.37 M396.99 658.25v2.37 M404.78 658.25v2.37 M412.56 658.25v2.37 M420.34 658.25v2.37 M428.13 658.25v4.15 M435.91 658.25v2.37 M443.70 658.25v2.37 M451.48 658.25v2.37 M459.26 658.25v2.37 M467.05 658.25v2.37 M474.83 658.25v4.15 M482.62 658.25v2.37 M490.40 658.25v2.37 M498.18 658.25v2.37 M505.97 658.25v2.37 M513.75 658.25v2.37 M521.54 658.25v4.15 M529.32 658.25v2.37 M537.10 658.25v2.37 M544.89 658.25v2.37 M552.67 658.25v2.37 M560.46 658.25v2.37 M568.24 658.25v4.15 M576.02 658.25v2.37 M583.81 658.25v2.37 M591.59 658.25v2.37 M599.38 658.25v2.37 M607.16 658.25v2.37 M614.94 658.25v4.15 M622.73 658.25v2.37 M630.51 658.25v2.37 M638.30 658.25v2.37 M646.08 658.25v2.37 M653.86 658.25v2.37 M661.65 658.25v4.15 M669.43 658.25v2.37 M677.22 658.25v2.37 M685.00 658.25v2.37 M692.78 658.25v2.37 M700.57 658.25v2.37 M708.35 658.25v4.15 M716.14 658.25v2.37 M723.92 658.25v2.37 M731.70 658.25v2.37 M739.49 658.25v2.37 M747.27 658.25v2.37 M755.06 658.25v4.15 M762.84 658.25v2.37 M770.62 658.25v2.37 M778.41 658.25v2.37 M786.19 658.25v2.37 M793.98 658.25v2.37 M801.76 658.25v4.15 M809.54 658.25v2.37 M817.33 658.25v2.37 M825.11 658.25v2.37 M832.90 658.25v2.37 M840.68 658.25v2.37 M848.46 658.25v4.15 M856.25 658.25v2.37 M864.03 658.25v2.37 M871.82 658.25v2.37 M879.60 658.25v2.37 M887.38 658.25v2.37 M895.17 658.25v4.15 M902.95 658.25v2.37 M910.74 658.25v2.37 M918.52 658.25v2.37 M926.30 658.25v2.37 M934.09 658.25v2.37 M941.87 658.25v4.15 M949.66 658.25v2.37 M957.44 658.25v2.37 M965.22 658.25v2.37 M973.01 658.25v2.37 M57.4 645.60h-4.15 M57.4 581.75h-4.15 M57.4 517.90h-4.15 M57.4 454.05h-4.15 M57.4 390.20h-4.15" stroke="#000" stroke-width="0.95" fill="none"/>
<text x="49.10" y="650.60" font-size="12.4" text-anchor="end" textLength="7.54" lengthAdjust="spacingAndGlyphs">5</text>
<text x="49.10" y="586.75" font-size="12.4" text-anchor="end" textLength="15.08" lengthAdjust="spacingAndGlyphs">10</text>
<text x="49.10" y="522.90" font-size="12.4" text-anchor="end" textLength="15.08" lengthAdjust="spacingAndGlyphs">15</text>
<text x="49.10" y="459.05" font-size="12.4" text-anchor="end" textLength="15.08" lengthAdjust="spacingAndGlyphs">20</text>
<text x="49.10" y="395.20" font-size="12.4" text-anchor="end" textLength="15.08" lengthAdjust="spacingAndGlyphs">25</text>
<rect x="57.4" y="675.2" width="959.2" height="306.0999999999999" fill="none" stroke="#000" stroke-width="0.95"/>
<path d="M101.20 981.30v4.15 M108.98 981.30v2.37 M116.77 981.30v2.37 M124.55 981.30v2.37 M132.34 981.30v2.37 M140.12 981.30v2.37 M147.90 981.30v4.15 M155.69 981.30v2.37 M163.47 981.30v2.37 M171.26 981.30v2.37 M179.04 981.30v2.37 M186.82 981.30v2.37 M194.61 981.30v4.15 M202.39 981.30v2.37 M210.18 981.30v2.37 M217.96 981.30v2.37 M225.74 981.30v2.37 M233.53 981.30v2.37 M241.31 981.30v4.15 M249.10 981.30v2.37 M256.88 981.30v2.37 M264.66 981.30v2.37 M272.45 981.30v2.37 M280.23 981.30v2.37 M288.02 981.30v4.15 M295.80 981.30v2.37 M303.58 981.30v2.37 M311.37 981.30v2.37 M319.15 981.30v2.37 M326.94 981.30v2.37 M334.72 981.30v4.15 M342.50 981.30v2.37 M350.29 981.30v2.37 M358.07 981.30v2.37 M365.86 981.30v2.37 M373.64 981.30v2.37 M381.42 981.30v4.15 M389.21 981.30v2.37 M396.99 981.30v2.37 M404.78 981.30v2.37 M412.56 981.30v2.37 M420.34 981.30v2.37 M428.13 981.30v4.15 M435.91 981.30v2.37 M443.70 981.30v2.37 M451.48 981.30v2.37 M459.26 981.30v2.37 M467.05 981.30v2.37 M474.83 981.30v4.15 M482.62 981.30v2.37 M490.40 981.30v2.37 M498.18 981.30v2.37 M505.97 981.30v2.37 M513.75 981.30v2.37 M521.54 981.30v4.15 M529.32 981.30v2.37 M537.10 981.30v2.37 M544.89 981.30v2.37 M552.67 981.30v2.37 M560.46 981.30v2.37 M568.24 981.30v4.15 M576.02 981.30v2.37 M583.81 981.30v2.37 M591.59 981.30v2.37 M599.38 981.30v2.37 M607.16 981.30v2.37 M614.94 981.30v4.15 M622.73 981.30v2.37 M630.51 981.30v2.37 M638.30 981.30v2.37 M646.08 981.30v2.37 M653.86 981.30v2.37 M661.65 981.30v4.15 M669.43 981.30v2.37 M677.22 981.30v2.37 M685.00 981.30v2.37 M692.78 981.30v2.37 M700.57 981.30v2.37 M708.35 981.30v4.15 M716.14 981.30v2.37 M723.92 981.30v2.37 M731.70 981.30v2.37 M739.49 981.30v2.37 M747.27 981.30v2.37 M755.06 981.30v4.15 M762.84 981.30v2.37 M770.62 981.30v2.37 M778.41 981.30v2.37 M786.19 981.30v2.37 M793.98 981.30v2.37 M801.76 981.30v4.15 M809.54 981.30v2.37 M817.33 981.30v2.37 M825.11 981.30v2.37 M832.90 981.30v2.37 M840.68 981.30v2.37 M848.46 981.30v4.15 M856.25 981.30v2.37 M864.03 981.30v2.37 M871.82 981.30v2.37 M879.60 981.30v2.37 M887.38 981.30v2.37 M895.17 981.30v4.15 M902.95 981.30v2.37 M910.74 981.30v2.37 M918.52 981.30v2.37 M926.30 981.30v2.37 M934.09 981.30v2.37 M941.87 981.30v4.15 M949.66 981.30v2.37 M957.44 981.30v2.37 M965.22 981.30v2.37 M973.01 981.30v2.37 M57.4 958.90h-4.15 M57.4 913.15h-4.15 M57.4 867.40h-4.15 M57.4 821.65h-4.15 M57.4 775.90h-4.15 M57.4 730.15h-4.15 M57.4 684.40h-4.15" stroke="#000" stroke-width="0.95" fill="none"/>
<text x="49.10" y="963.90" font-size="12.4" text-anchor="end" textLength="15.08" lengthAdjust="spacingAndGlyphs">40</text>
<text x="49.10" y="918.15" font-size="12.4" text-anchor="end" textLength="15.08" lengthAdjust="spacingAndGlyphs">50</text>
<text x="49.10" y="872.40" font-size="12.4" text-anchor="end" textLength="15.08" lengthAdjust="spacingAndGlyphs">60</text>
<text x="49.10" y="826.65" font-size="12.4" text-anchor="end" textLength="15.08" lengthAdjust="spacingAndGlyphs">70</text>
<text x="49.10" y="780.90" font-size="12.4" text-anchor="end" textLength="15.08" lengthAdjust="spacingAndGlyphs">80</text>
<text x="49.10" y="735.15" font-size="12.4" text-anchor="end" textLength="15.08" lengthAdjust="spacingAndGlyphs">90</text>
<text x="49.10" y="689.40" font-size="12.4" text-anchor="end" textLength="22.62" lengthAdjust="spacingAndGlyphs">100</text>
<text x="101.20" y="998.75" font-size="12.4" text-anchor="middle" textLength="34.15" lengthAdjust="spacingAndGlyphs">06:00</text>
<text x="147.90" y="998.75" font-size="12.4" text-anchor="middle" textLength="34.15" lengthAdjust="spacingAndGlyphs">12:00</text>
<text x="194.61" y="998.75" font-size="12.4" text-anchor="middle" textLength="34.15" lengthAdjust="spacingAndGlyphs">18:00</text>
<text x="241.31" y="998.75" font-size="12.4" text-anchor="middle" textLength="34.15" lengthAdjust="spacingAndGlyphs">00:00</text>
<text x="241.31" y="1013.00" font-size="12.4" text-anchor="middle" textLength="68.87" lengthAdjust="spacingAndGlyphs">2024-12-24</text>
<text x="288.02" y="998.75" font-size="12.4" text-anchor="middle" textLength="34.15" lengthAdjust="spacingAndGlyphs">06:00</text>
<text x="334.72" y="998.75" font-size="12.4" text-anchor="middle" textLength="34.15" lengthAdjust="spacingAndGlyphs">12:00</text>
<text x="381.42" y="998.75" font-size="12.4" text-anchor="middle" textLength="34.15" lengthAdjust="spacingAndGlyphs">18:00</text>
<text x="428.13" y="998.75" font-size="12.4" text-anchor="middle" textLength="34.15" lengthAdjust="spacingAndGlyphs">00:00</text>
<text x="428.13" y="1013.00" font-size="12.4" text-anchor="middle" textLength="68.87" lengthAdjust="spacingAndGlyphs">2024-12-25</text>
<text x="474.83" y="998.75" font-size="12.4" text-anchor="middle" textLength="34.15" lengthAdjust="spacingAndGlyphs">06:00</text>
<text x="521.54" y="998.75" font-size="12.4" text-anchor="middle" textLength="34.15" lengthAdjust="spacingAndGlyphs">12:00</text>
<text x="568.24" y="998.75" font-size="12.4" text-anchor="middle" textLength="34.15" lengthAdjust="spacingAndGlyphs">18:00</text>
<text x="614.94" y="998.75" font-size="12.4" text-anchor="middle" textLength="34.15" lengthAdjust="spacingAndGlyphs">00:00</text>
<text x="614.94" y="1013.00" font-size="12.4" text-anchor="middle" textLength="68.87" lengthAdjust="spacingAndGlyphs">2024-12-26</text>
<text x="661.65" y="998.75" font-size="12.4" text-anchor="middle" textLength="34.15" lengthAdjust="spacingAndGlyphs">06:00</text>
<text x="708.35" y="998.75" font-size="12.4" text-anchor="middle" textLength="34.15" lengthAdjust="spacingAndGlyphs">12:00</text>
<text x="755.06" y="998.75" font-size="12.4" text-anchor="middle" textLength="34.15" lengthAdjust="spacingAndGlyphs">18:00</text>
<text x="801.76" y="998.75" font-size="12.4" text-anchor="middle" textLength="34.15" lengthAdjust="spacingAndGlyphs">00:00</text>
<text x="801.76" y="1013.00" font-size="12.4" text-anchor="middle" textLength="68.87" lengthAdjust="spacingAndGlyphs">2024-12-27</text>
<text x="848.46" y="998.75" font-size="12.4" text-anchor="middle" textLength="34.15" lengthAdjust="spacingAndGlyphs">06:00</text>
<text x="895.17" y="998.75" font-size="12.4" text-anchor="middle" textLength="34.15" lengthAdjust="spacingAndGlyphs">12:00</text>
<text x="941.87" y="998.75" font-size="12.4" text-anchor="middle" textLength="34.15" lengthAdjust="spacingAndGlyphs">18:00</text>
<text x="537.00" y="21.50" font-size="18.8" font-weight="bold" text-anchor="middle" textLength="74.96" lengthAdjust="spacingAndGlyphs">testowe</text>
<g transform="translate(25.1,181.85) rotate(-90)"><text x="0.00" y="0.00" font-size="12.4" font-weight="bold" text-anchor="middle" textLength="114.77" lengthAdjust="spacingAndGlyphs">Temperatura (°C)</text></g>
<g transform="translate(25.3,505.27) rotate(-90)"><text x="0.00" y="0.00" font-size="12.4" font-weight="bold" text-anchor="middle" textLength="119.44" lengthAdjust="spacingAndGlyphs">Wilgotność (g/m³)</text></g>
<g transform="translate(17.7,828.25) rotate(-90)"><text x="0.00" y="0.00" font-size="12.4" font-weight="bold" text-anchor="middle" textLength="100.97" lengthAdjust="spacingAndGlyphs">Wilgotność (%)</text></g>
<rect x="63.5" y="34.8" width="235.30" height="57.30" rx="3" ry="3" fill="#fff" fill-opacity="0.8" stroke="#cccccc" stroke-opacity="0.8" stroke-width="0.95"/>
<polyline points="68.00,44.60 91.70,44.60" fill="none" stroke="#0000ff" stroke-width="1.78" stroke-linejoin="round" stroke-linecap="square"/>
<text x="101.20" y="48.75" font-size="12.4" text-anchor="start" textLength="103.94" lengthAdjust="spacingAndGlyphs">Temperatura (°C)</text>
<rect x="68.0" y="59.05" width="23.7" height="8.3" fill="#ff0000" fill-opacity="0.3" stroke="#ff0000" stroke-opacity="0.3" stroke-width="1.18"/>
<text x="101.20" y="66.85" font-size="12.4" text-anchor="start" textLength="74.69" lengthAdjust="spacingAndGlyphs">Okres mycia</text>
<polyline points="68.00,80.90 91.70,80.90" fill="none" stroke="#00bfff" stroke-width="1.78" stroke-linejoin="round" stroke-linecap="butt" stroke-dasharray="6.58 2.84"/>
<text x="101.20" y="84.70" font-size="12.4" text-anchor="start" textLength="193.14" lengthAdjust="spacingAndGlyphs">Temperatura referencyjna: 10°C</text>
<rect x="63.5" y="358.4" width="251.70" height="74.90" rx="3" ry="3" fill="#fff" fill-opacity="0.8" stroke="#cccccc" stroke-opacity="0.8" stroke-width="0.95"/>
<polyline points="68.00,368.10 91.70,368.10" fill="none" stroke="#ff0000" stroke-width="1.78" stroke-linejoin="round" stroke-linecap="square"/>
<text x="101.20" y="372.60" font-size="12.4" text-anchor="start" textLength="189.46" lengthAdjust="spacingAndGlyphs">Wilgotność bezwzględna (g/m³)</text>
<rect x="68.0" y="382.65" width="23.7" height="8.3" fill="#ff0000" fill-opacity="0.3" stroke="#ff0000" stroke-opacity="0.3" stroke-width="1.18"/>
<text x="101.20" y="390.70" font-size="12.4" text-anchor="start" textLength="74.69" lengthAdjust="spacingAndGlyphs">Okres mycia</text>
<polyline points="68.00,404.20 91.70,404.20" fill="none" stroke="#ff69b4" stroke-width="1.78" stroke-linejoin="round" stroke-linecap="butt" stroke-dasharray="6.58 2.84"/>
<text x="101.20" y="408.70" font-size="12.4" text-anchor="start" textLength="210.20" lengthAdjust="spacingAndGlyphs">100% RH dla Temp. Ref.: 9.46 g/m³</text>
<polyline points="68.00,422.45 91.70,422.45" fill="none" stroke="#ffc0cb" stroke-width="1.78" stroke-linejoin="round" stroke-linecap="butt" stroke-dasharray="6.58 2.84"/>
<text x="101.20" y="426.70" font-size="12.4" text-anchor="start" textLength="202.56" lengthAdjust="spacingAndGlyphs">65% RH dla Temp. Ref.: 6.13 g/m³</text>
<rect x="63.5" y="898.4" width="406.80" height="76.80" rx="3" ry="3" fill="#fff" fill-opacity="0.8" stroke="#cccccc" stroke-opacity="0.8" stroke-width="0.95"/>
<polyline points="68.00,908.90 91.70,908.90" fill="none" stroke="#008000" stroke-width="2.37" stroke-linejoin="round" stroke-linecap="square"/>
<text x="101.20" y="912.90" font-size="12.4" text-anchor="start" textLength="126.74" lengthAdjust="spacingAndGlyphs">Wilgotność względna</text>
<polyline points="68.00,927.05 91.70,927.05" fill="none" stroke="#ff0000" stroke-width="2.37" stroke-linejoin="round" stroke-linecap="square"/>
<text x="101.20" y="930.70" font-size="12.4" text-anchor="start" textLength="86.48" lengthAdjust="spacingAndGlyphs">Czujnik zalany</text>
<polyline points="68.00,946.00 91.70,946.00" fill="none" stroke="#32cd32" stroke-width="2.37" stroke-linejoin="round" stroke-linecap="butt" stroke-dasharray="8.77 3.79"/>
<text x="101.20" y="949.20" font-size="12.4" text-anchor="start" textLength="365.53" lengthAdjust="spacingAndGlyphs">Górny próg wilgotności zalecanej ze względów higienicznych</text>
<rect x="68.0" y="959.85" width="23.7" height="8.3" fill="#ff0000" fill-opacity="0.3"/>
<text x="101.20" y="967.60" font-size="12.4" text-anchor="start" textLength="74.69" lengthAdjust="spacingAndGlyphs">Okres mycia</text>
</svg></body></html>
